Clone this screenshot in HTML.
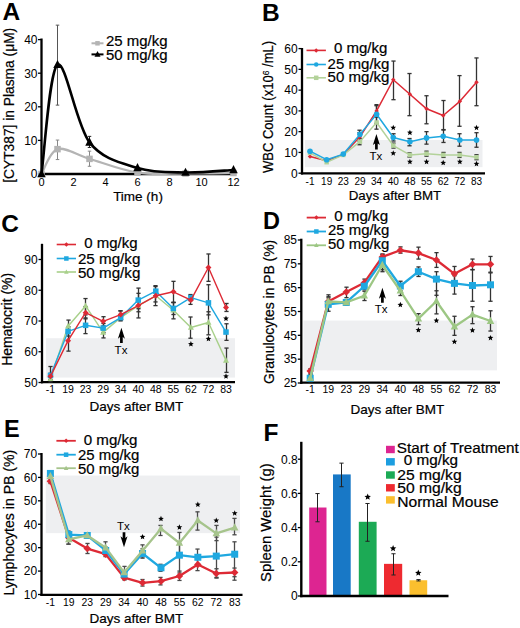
<!DOCTYPE html>
<html><head><meta charset="utf-8"><style>
html,body{margin:0;padding:0;background:#fff;}
svg{display:block;}
text{font-family:"Liberation Sans", sans-serif;}
.b{stroke:#000;stroke-width:0.2px;}
</style></head><body>
<svg width="520" height="628" viewBox="0 0 520 628">
<rect width="520" height="628" fill="#fff"/>
<line x1="41.50" y1="38.50" x2="41.50" y2="175.10" stroke="#000" stroke-width="2.3" />
<line x1="40.40" y1="174.00" x2="235.00" y2="174.00" stroke="#000" stroke-width="2.3" />
<line x1="38.00" y1="174.00" x2="41.50" y2="174.00" stroke="#000" stroke-width="1.3" />
<text x="37.50" y="178.30" font-size="12" text-anchor="end" fill="#000" >0</text>
<line x1="38.00" y1="140.40" x2="41.50" y2="140.40" stroke="#000" stroke-width="1.3" />
<text x="37.50" y="144.70" font-size="12" text-anchor="end" fill="#000" >10</text>
<line x1="38.00" y1="106.80" x2="41.50" y2="106.80" stroke="#000" stroke-width="1.3" />
<text x="37.50" y="111.10" font-size="12" text-anchor="end" fill="#000" >20</text>
<line x1="38.00" y1="73.20" x2="41.50" y2="73.20" stroke="#000" stroke-width="1.3" />
<text x="37.50" y="77.50" font-size="12" text-anchor="end" fill="#000" >30</text>
<line x1="38.00" y1="39.60" x2="41.50" y2="39.60" stroke="#000" stroke-width="1.3" />
<text x="37.50" y="43.90" font-size="12" text-anchor="end" fill="#000" >40</text>
<text x="41.50" y="185.80" font-size="11" text-anchor="middle" fill="#000" >0</text>
<text x="73.50" y="185.80" font-size="11" text-anchor="middle" fill="#000" >2</text>
<text x="105.50" y="185.80" font-size="11" text-anchor="middle" fill="#000" >4</text>
<text x="137.50" y="185.80" font-size="11" text-anchor="middle" fill="#000" >6</text>
<text x="169.50" y="185.80" font-size="11" text-anchor="middle" fill="#000" >8</text>
<text x="201.50" y="185.80" font-size="11" text-anchor="middle" fill="#000" >10</text>
<text x="233.50" y="185.80" font-size="11" text-anchor="middle" fill="#000" >12</text>
<text x="138.00" y="201.00" font-size="13.5" text-anchor="middle" fill="#000" class="b" >Time (h)</text>
<text x="14.30" y="105.30" font-size="14.4" text-anchor="middle" fill="#000" class="b" textLength="155" lengthAdjust="spacingAndGlyphs" transform="rotate(-90 14.30 105.30)" >[CYT387] in Plasma (&#956;M)</text>
<line x1="57.50" y1="140.06" x2="57.50" y2="159.55" stroke="#888" stroke-width="1" />
<line x1="55.75" y1="140.06" x2="59.25" y2="140.06" stroke="#888" stroke-width="1" />
<line x1="55.75" y1="159.55" x2="59.25" y2="159.55" stroke="#888" stroke-width="1" />
<line x1="89.50" y1="151.15" x2="89.50" y2="166.27" stroke="#888" stroke-width="1" />
<line x1="87.75" y1="151.15" x2="91.25" y2="151.15" stroke="#888" stroke-width="1" />
<line x1="87.75" y1="166.27" x2="91.25" y2="166.27" stroke="#888" stroke-width="1" />
<path d="M41.50,174.00 C44.17,169.86 49.50,151.66 57.50,149.14 C65.50,146.62 76.17,154.96 89.50,158.88 C102.83,162.80 121.50,170.22 137.50,172.66 C153.50,175.09 169.50,173.44 185.50,173.50 C201.50,173.55 225.50,173.08 233.50,172.99" fill="none" stroke="#b4b4b4" stroke-width="2.2" stroke-linecap="round"/>
<rect x="38.25" y="170.75" width="6.50" height="6.50" fill="#b4b4b4"/>
<rect x="54.25" y="145.89" width="6.50" height="6.50" fill="#b4b4b4"/>
<rect x="86.25" y="155.63" width="6.50" height="6.50" fill="#b4b4b4"/>
<rect x="134.25" y="169.41" width="6.50" height="6.50" fill="#b4b4b4"/>
<rect x="182.25" y="170.25" width="6.50" height="6.50" fill="#b4b4b4"/>
<rect x="230.25" y="169.74" width="6.50" height="6.50" fill="#b4b4b4"/>
<line x1="57.50" y1="25.15" x2="57.50" y2="105.12" stroke="#555" stroke-width="1" />
<line x1="55.75" y1="25.15" x2="59.25" y2="25.15" stroke="#555" stroke-width="1" />
<line x1="55.75" y1="105.12" x2="59.25" y2="105.12" stroke="#555" stroke-width="1" />
<line x1="89.50" y1="136.37" x2="89.50" y2="147.46" stroke="#222" stroke-width="1" />
<line x1="87.75" y1="136.37" x2="91.25" y2="136.37" stroke="#222" stroke-width="1" />
<line x1="87.75" y1="147.46" x2="91.25" y2="147.46" stroke="#222" stroke-width="1" />
<path d="M41.50,174.00 C44.17,155.80 49.50,70.06 57.50,64.80 C65.50,59.54 76.17,125.22 89.50,142.42 C102.83,159.61 121.50,162.94 137.50,167.95 C153.50,172.96 169.50,172.15 185.50,172.49 C201.50,172.82 225.50,170.39 233.50,169.97" fill="none" stroke="#000" stroke-width="2.6" stroke-linecap="round"/>
<polygon points="41.50,169.16 45.75,177.23 37.25,177.23" fill="#000"/>
<polygon points="57.50,59.95 61.75,68.03 53.25,68.03" fill="#000"/>
<polygon points="89.50,137.57 93.75,145.65 85.25,145.65" fill="#000"/>
<polygon points="137.50,163.11 141.75,171.18 133.25,171.18" fill="#000"/>
<polygon points="185.50,167.64 189.75,175.72 181.25,175.72" fill="#000"/>
<polygon points="233.50,165.12 237.75,173.20 229.25,173.20" fill="#000"/>
<line x1="91.50" y1="43.30" x2="103.50" y2="43.30" stroke="#b4b4b4" stroke-width="2" />
<rect x="95.25" y="41.05" width="4.50" height="4.50" fill="#b4b4b4"/>
<text x="106.00" y="45.50" font-size="14.5" text-anchor="start" fill="#000" class="b" textLength="61.6" lengthAdjust="spacingAndGlyphs" >25 mg/kg</text>
<line x1="91.50" y1="54.40" x2="103.50" y2="54.40" stroke="#000" stroke-width="2" />
<polygon points="97.50,50.98 100.50,56.68 94.50,56.68" fill="#000"/>
<text x="106.00" y="60.20" font-size="14.5" text-anchor="start" fill="#000" class="b" textLength="61.6" lengthAdjust="spacingAndGlyphs" >50 mg/kg</text>
<text x="2.50" y="19.80" font-size="24.5" text-anchor="start" fill="#000" font-weight="bold" >A</text>
<rect x="305.00" y="139.97" width="177.50" height="27.20" fill="#eeeff1"/>
<line x1="302.00" y1="48.00" x2="302.00" y2="174.50" stroke="#000" stroke-width="2.3" />
<line x1="300.90" y1="173.40" x2="485.00" y2="173.40" stroke="#000" stroke-width="2.3" />
<line x1="298.50" y1="173.20" x2="302.00" y2="173.20" stroke="#000" stroke-width="1.3" />
<text x="297.70" y="177.50" font-size="12" text-anchor="end" fill="#000" >0</text>
<line x1="298.50" y1="152.43" x2="302.00" y2="152.43" stroke="#000" stroke-width="1.3" />
<text x="297.70" y="156.73" font-size="12" text-anchor="end" fill="#000" >10</text>
<line x1="298.50" y1="131.67" x2="302.00" y2="131.67" stroke="#000" stroke-width="1.3" />
<text x="297.70" y="135.96" font-size="12" text-anchor="end" fill="#000" >20</text>
<line x1="298.50" y1="110.90" x2="302.00" y2="110.90" stroke="#000" stroke-width="1.3" />
<text x="297.70" y="115.20" font-size="12" text-anchor="end" fill="#000" >30</text>
<line x1="298.50" y1="90.13" x2="302.00" y2="90.13" stroke="#000" stroke-width="1.3" />
<text x="297.70" y="94.43" font-size="12" text-anchor="end" fill="#000" >40</text>
<line x1="298.50" y1="69.37" x2="302.00" y2="69.37" stroke="#000" stroke-width="1.3" />
<text x="297.70" y="73.66" font-size="12" text-anchor="end" fill="#000" >50</text>
<line x1="298.50" y1="48.60" x2="302.00" y2="48.60" stroke="#000" stroke-width="1.3" />
<text x="297.70" y="52.90" font-size="12" text-anchor="end" fill="#000" >60</text>
<text x="310.00" y="184.60" font-size="10" text-anchor="middle" fill="#000" >-1</text>
<text x="326.65" y="184.60" font-size="10" text-anchor="middle" fill="#000" >19</text>
<text x="343.30" y="184.60" font-size="10" text-anchor="middle" fill="#000" >23</text>
<text x="359.95" y="184.60" font-size="10" text-anchor="middle" fill="#000" >29</text>
<text x="376.60" y="184.60" font-size="10" text-anchor="middle" fill="#000" >34</text>
<text x="393.25" y="184.60" font-size="10" text-anchor="middle" fill="#000" >40</text>
<text x="409.90" y="184.60" font-size="10" text-anchor="middle" fill="#000" >48</text>
<text x="426.55" y="184.60" font-size="10" text-anchor="middle" fill="#000" >55</text>
<text x="443.20" y="184.60" font-size="10" text-anchor="middle" fill="#000" >62</text>
<text x="459.85" y="184.60" font-size="10" text-anchor="middle" fill="#000" >72</text>
<text x="476.50" y="184.60" font-size="10" text-anchor="middle" fill="#000" >83</text>
<text x="395.00" y="200.00" font-size="13.5" text-anchor="middle" fill="#000" class="b" textLength="92.5" lengthAdjust="spacingAndGlyphs" >Days after BMT</text>
<text x="273.40" y="107.00" font-size="14.8" text-anchor="middle" fill="#000" class="b" textLength="132.2" lengthAdjust="spacingAndGlyphs" transform="rotate(-90 273.40 107.00)" >WBC Count (x10<tspan font-size="9.5" dy="-4.5">6</tspan><tspan dy="4.5"> /mL)</tspan></text>
<line x1="359.50" y1="132.70" x2="359.50" y2="141.01" stroke="#333" stroke-width="1.3" />
<line x1="357.40" y1="132.70" x2="361.60" y2="132.70" stroke="#333" stroke-width="1.3" />
<line x1="357.40" y1="141.01" x2="361.60" y2="141.01" stroke="#333" stroke-width="1.3" />
<line x1="376.50" y1="105.71" x2="376.50" y2="116.09" stroke="#333" stroke-width="1.3" />
<line x1="374.40" y1="105.71" x2="378.60" y2="105.71" stroke="#333" stroke-width="1.3" />
<line x1="374.40" y1="116.09" x2="378.60" y2="116.09" stroke="#333" stroke-width="1.3" />
<line x1="393.50" y1="61.06" x2="393.50" y2="99.69" stroke="#333" stroke-width="1.3" />
<line x1="391.40" y1="61.06" x2="395.60" y2="61.06" stroke="#333" stroke-width="1.3" />
<line x1="391.40" y1="99.69" x2="395.60" y2="99.69" stroke="#333" stroke-width="1.3" />
<line x1="409.50" y1="73.52" x2="409.50" y2="115.68" stroke="#333" stroke-width="1.3" />
<line x1="407.40" y1="73.52" x2="411.60" y2="73.52" stroke="#333" stroke-width="1.3" />
<line x1="407.40" y1="115.68" x2="411.60" y2="115.68" stroke="#333" stroke-width="1.3" />
<line x1="426.50" y1="95.74" x2="426.50" y2="123.78" stroke="#333" stroke-width="1.3" />
<line x1="424.40" y1="95.74" x2="428.60" y2="95.74" stroke="#333" stroke-width="1.3" />
<line x1="424.40" y1="123.78" x2="428.60" y2="123.78" stroke="#333" stroke-width="1.3" />
<line x1="443.50" y1="100.52" x2="443.50" y2="129.59" stroke="#333" stroke-width="1.3" />
<line x1="441.40" y1="100.52" x2="445.60" y2="100.52" stroke="#333" stroke-width="1.3" />
<line x1="441.40" y1="129.59" x2="445.60" y2="129.59" stroke="#333" stroke-width="1.3" />
<line x1="459.50" y1="75.60" x2="459.50" y2="126.27" stroke="#333" stroke-width="1.3" />
<line x1="457.40" y1="75.60" x2="461.60" y2="75.60" stroke="#333" stroke-width="1.3" />
<line x1="457.40" y1="126.27" x2="461.60" y2="126.27" stroke="#333" stroke-width="1.3" />
<line x1="476.50" y1="57.94" x2="476.50" y2="105.71" stroke="#333" stroke-width="1.3" />
<line x1="474.40" y1="57.94" x2="478.60" y2="57.94" stroke="#333" stroke-width="1.3" />
<line x1="474.40" y1="105.71" x2="478.60" y2="105.71" stroke="#333" stroke-width="1.3" />
<line x1="359.50" y1="138.52" x2="359.50" y2="144.75" stroke="#333" stroke-width="1.3" />
<line x1="357.40" y1="138.52" x2="361.60" y2="138.52" stroke="#333" stroke-width="1.3" />
<line x1="357.40" y1="144.75" x2="361.60" y2="144.75" stroke="#333" stroke-width="1.3" />
<line x1="376.50" y1="117.13" x2="376.50" y2="129.17" stroke="#333" stroke-width="1.3" />
<line x1="374.40" y1="117.13" x2="378.60" y2="117.13" stroke="#333" stroke-width="1.3" />
<line x1="374.40" y1="129.17" x2="378.60" y2="129.17" stroke="#333" stroke-width="1.3" />
<line x1="393.50" y1="143.09" x2="393.50" y2="148.07" stroke="#333" stroke-width="1.3" />
<line x1="391.40" y1="143.09" x2="395.60" y2="143.09" stroke="#333" stroke-width="1.3" />
<line x1="391.40" y1="148.07" x2="395.60" y2="148.07" stroke="#333" stroke-width="1.3" />
<line x1="409.50" y1="152.85" x2="409.50" y2="157.00" stroke="#333" stroke-width="1.3" />
<line x1="407.40" y1="152.85" x2="411.60" y2="152.85" stroke="#333" stroke-width="1.3" />
<line x1="407.40" y1="157.00" x2="411.60" y2="157.00" stroke="#333" stroke-width="1.3" />
<line x1="426.50" y1="151.19" x2="426.50" y2="156.17" stroke="#333" stroke-width="1.3" />
<line x1="424.40" y1="151.19" x2="428.60" y2="151.19" stroke="#333" stroke-width="1.3" />
<line x1="424.40" y1="156.17" x2="428.60" y2="156.17" stroke="#333" stroke-width="1.3" />
<line x1="443.50" y1="152.43" x2="443.50" y2="157.42" stroke="#333" stroke-width="1.3" />
<line x1="441.40" y1="152.43" x2="445.60" y2="152.43" stroke="#333" stroke-width="1.3" />
<line x1="441.40" y1="157.42" x2="445.60" y2="157.42" stroke="#333" stroke-width="1.3" />
<line x1="459.50" y1="152.43" x2="459.50" y2="157.42" stroke="#333" stroke-width="1.3" />
<line x1="457.40" y1="152.43" x2="461.60" y2="152.43" stroke="#333" stroke-width="1.3" />
<line x1="457.40" y1="157.42" x2="461.60" y2="157.42" stroke="#333" stroke-width="1.3" />
<line x1="476.50" y1="154.72" x2="476.50" y2="159.70" stroke="#333" stroke-width="1.3" />
<line x1="474.40" y1="154.72" x2="478.60" y2="154.72" stroke="#333" stroke-width="1.3" />
<line x1="474.40" y1="159.70" x2="478.60" y2="159.70" stroke="#333" stroke-width="1.3" />
<line x1="359.50" y1="130.21" x2="359.50" y2="138.52" stroke="#333" stroke-width="1.3" />
<line x1="357.40" y1="130.21" x2="361.60" y2="130.21" stroke="#333" stroke-width="1.3" />
<line x1="357.40" y1="138.52" x2="361.60" y2="138.52" stroke="#333" stroke-width="1.3" />
<line x1="376.50" y1="104.67" x2="376.50" y2="123.36" stroke="#333" stroke-width="1.3" />
<line x1="374.40" y1="104.67" x2="378.60" y2="104.67" stroke="#333" stroke-width="1.3" />
<line x1="374.40" y1="123.36" x2="378.60" y2="123.36" stroke="#333" stroke-width="1.3" />
<line x1="393.50" y1="133.74" x2="393.50" y2="141.01" stroke="#333" stroke-width="1.3" />
<line x1="391.40" y1="133.74" x2="395.60" y2="133.74" stroke="#333" stroke-width="1.3" />
<line x1="391.40" y1="141.01" x2="395.60" y2="141.01" stroke="#333" stroke-width="1.3" />
<line x1="409.50" y1="138.52" x2="409.50" y2="145.79" stroke="#333" stroke-width="1.3" />
<line x1="407.40" y1="138.52" x2="411.60" y2="138.52" stroke="#333" stroke-width="1.3" />
<line x1="407.40" y1="145.79" x2="411.60" y2="145.79" stroke="#333" stroke-width="1.3" />
<line x1="426.50" y1="131.67" x2="426.50" y2="144.13" stroke="#333" stroke-width="1.3" />
<line x1="424.40" y1="131.67" x2="428.60" y2="131.67" stroke="#333" stroke-width="1.3" />
<line x1="424.40" y1="144.13" x2="428.60" y2="144.13" stroke="#333" stroke-width="1.3" />
<line x1="443.50" y1="130.01" x2="443.50" y2="142.47" stroke="#333" stroke-width="1.3" />
<line x1="441.40" y1="130.01" x2="445.60" y2="130.01" stroke="#333" stroke-width="1.3" />
<line x1="441.40" y1="142.47" x2="445.60" y2="142.47" stroke="#333" stroke-width="1.3" />
<line x1="459.50" y1="133.74" x2="459.50" y2="146.20" stroke="#333" stroke-width="1.3" />
<line x1="457.40" y1="133.74" x2="461.60" y2="133.74" stroke="#333" stroke-width="1.3" />
<line x1="457.40" y1="146.20" x2="461.60" y2="146.20" stroke="#333" stroke-width="1.3" />
<line x1="476.50" y1="132.70" x2="476.50" y2="147.24" stroke="#333" stroke-width="1.3" />
<line x1="474.40" y1="132.70" x2="478.60" y2="132.70" stroke="#333" stroke-width="1.3" />
<line x1="474.40" y1="147.24" x2="478.60" y2="147.24" stroke="#333" stroke-width="1.3" />
<polyline points="310.00,156.59 326.65,160.74 343.30,154.51 359.95,136.86 376.60,110.90 393.25,79.75 409.90,94.29 426.55,108.82 443.20,115.47 459.85,101.35 476.50,82.24" fill="none" stroke="#dd2a35" stroke-width="1.5" stroke-linejoin="round"/>
<polygon points="310.00,154.34 312.25,156.59 310.00,158.84 307.75,156.59" fill="#dd2a35"/>
<polygon points="326.65,158.49 328.90,160.74 326.65,162.99 324.40,160.74" fill="#dd2a35"/>
<polygon points="343.30,152.26 345.55,154.51 343.30,156.76 341.05,154.51" fill="#dd2a35"/>
<polygon points="359.95,134.61 362.20,136.86 359.95,139.11 357.70,136.86" fill="#dd2a35"/>
<polygon points="376.60,108.65 378.85,110.90 376.60,113.15 374.35,110.90" fill="#dd2a35"/>
<polygon points="393.25,77.50 395.50,79.75 393.25,82.00 391.00,79.75" fill="#dd2a35"/>
<polygon points="409.90,92.04 412.15,94.29 409.90,96.54 407.65,94.29" fill="#dd2a35"/>
<polygon points="426.55,106.57 428.80,108.82 426.55,111.07 424.30,108.82" fill="#dd2a35"/>
<polygon points="443.20,113.22 445.45,115.47 443.20,117.72 440.95,115.47" fill="#dd2a35"/>
<polygon points="459.85,99.10 462.10,101.35 459.85,103.60 457.60,101.35" fill="#dd2a35"/>
<polygon points="476.50,79.99 478.75,82.24 476.50,84.49 474.25,82.24" fill="#dd2a35"/>
<polyline points="310.00,152.85 326.65,162.19 343.30,154.93 359.95,141.63 376.60,122.53 393.25,145.58 409.90,154.93 426.55,153.68 443.20,154.93 459.85,154.93 476.50,157.21" fill="none" stroke="#b3d29a" stroke-width="1.5" stroke-linejoin="round"/>
<rect x="307.75" y="150.60" width="4.50" height="4.50" fill="#b3d29a"/>
<rect x="324.40" y="159.94" width="4.50" height="4.50" fill="#b3d29a"/>
<rect x="341.05" y="152.68" width="4.50" height="4.50" fill="#b3d29a"/>
<rect x="357.70" y="139.38" width="4.50" height="4.50" fill="#b3d29a"/>
<rect x="374.35" y="120.28" width="4.50" height="4.50" fill="#b3d29a"/>
<rect x="391.00" y="143.33" width="4.50" height="4.50" fill="#b3d29a"/>
<rect x="407.65" y="152.68" width="4.50" height="4.50" fill="#b3d29a"/>
<rect x="424.30" y="151.43" width="4.50" height="4.50" fill="#b3d29a"/>
<rect x="440.95" y="152.68" width="4.50" height="4.50" fill="#b3d29a"/>
<rect x="457.60" y="152.68" width="4.50" height="4.50" fill="#b3d29a"/>
<rect x="474.25" y="154.96" width="4.50" height="4.50" fill="#b3d29a"/>
<polyline points="310.00,151.19 326.65,159.70 343.30,154.09 359.95,134.37 376.60,114.22 393.25,137.48 409.90,141.84 426.55,137.90 443.20,136.24 459.85,139.97 476.50,139.97" fill="none" stroke="#1fa8e0" stroke-width="1.5" stroke-linejoin="round"/>
<circle cx="310.00" cy="151.19" r="2.80" fill="#1fa8e0"/>
<circle cx="326.65" cy="159.70" r="2.80" fill="#1fa8e0"/>
<circle cx="343.30" cy="154.09" r="2.80" fill="#1fa8e0"/>
<circle cx="359.95" cy="134.37" r="2.80" fill="#1fa8e0"/>
<circle cx="376.60" cy="114.22" r="2.80" fill="#1fa8e0"/>
<circle cx="393.25" cy="137.48" r="2.80" fill="#1fa8e0"/>
<circle cx="409.90" cy="141.84" r="2.80" fill="#1fa8e0"/>
<circle cx="426.55" cy="137.90" r="2.80" fill="#1fa8e0"/>
<circle cx="443.20" cy="136.24" r="2.80" fill="#1fa8e0"/>
<circle cx="459.85" cy="139.97" r="2.80" fill="#1fa8e0"/>
<circle cx="476.50" cy="139.97" r="2.80" fill="#1fa8e0"/>
<polygon points="393.25,124.72 394.04,126.63 396.10,126.79 394.53,128.14 395.01,130.15 393.25,129.07 391.49,130.15 391.97,128.14 390.40,126.79 392.46,126.63" fill="#000"/>
<polygon points="393.25,150.26 394.04,152.17 396.10,152.34 394.53,153.68 395.01,155.69 393.25,154.61 391.49,155.69 391.97,153.68 390.40,152.34 392.46,152.17" fill="#000"/>
<polygon points="409.90,129.70 410.69,131.61 412.75,131.78 411.18,133.12 411.66,135.13 409.90,134.05 408.14,135.13 408.62,133.12 407.05,131.78 409.11,131.61" fill="#000"/>
<polygon points="409.90,158.78 410.69,160.69 412.75,160.85 411.18,162.20 411.66,164.21 409.90,163.13 408.14,164.21 408.62,162.20 407.05,160.85 409.11,160.69" fill="#000"/>
<polygon points="426.55,158.78 427.34,160.69 429.40,160.85 427.83,162.20 428.31,164.21 426.55,163.13 424.79,164.21 425.27,162.20 423.70,160.85 425.76,160.69" fill="#000"/>
<polygon points="443.20,159.82 443.99,161.72 446.05,161.89 444.48,163.23 444.96,165.24 443.20,164.17 441.44,165.24 441.92,163.23 440.35,161.89 442.41,161.72" fill="#000"/>
<polygon points="459.85,158.78 460.64,160.69 462.70,160.85 461.13,162.20 461.61,164.21 459.85,163.13 458.09,164.21 458.57,162.20 457.00,160.85 459.06,160.69" fill="#000"/>
<polygon points="476.50,124.72 477.29,126.63 479.35,126.79 477.78,128.14 478.26,130.15 476.50,129.07 474.74,130.15 475.22,128.14 473.65,126.79 475.71,126.63" fill="#000"/>
<polygon points="476.50,160.85 477.29,162.76 479.35,162.93 477.78,164.27 478.26,166.28 476.50,165.20 474.74,166.28 475.22,164.27 473.65,162.93 475.71,162.76" fill="#000"/>
<polygon points="376.40,134.10 379.90,145.10 377.75,143.50 377.75,149.60 375.05,149.60 375.05,143.50 372.90,145.10" fill="#000"/>
<text x="375.80" y="160.00" font-size="11.5" text-anchor="middle" fill="#000" >Tx</text>
<line x1="306.50" y1="50.40" x2="325.90" y2="50.40" stroke="#dd2a35" stroke-width="1.6" />
<polygon points="316.20,48.15 318.45,50.40 316.20,52.65 313.95,50.40" fill="#dd2a35"/>
<text x="334.00" y="52.50" font-size="14.6" text-anchor="start" fill="#000" class="b" textLength="53.4" lengthAdjust="spacingAndGlyphs" >0 mg/kg</text>
<line x1="306.50" y1="64.50" x2="325.90" y2="64.50" stroke="#1fa8e0" stroke-width="1.6" />
<circle cx="316.20" cy="64.50" r="2.25" fill="#1fa8e0"/>
<text x="327.60" y="68.50" font-size="14.6" text-anchor="start" fill="#000" class="b" textLength="61.9" lengthAdjust="spacingAndGlyphs" >25 mg/kg</text>
<line x1="306.50" y1="77.80" x2="325.90" y2="77.80" stroke="#b3d29a" stroke-width="1.6" />
<rect x="313.95" y="75.55" width="4.50" height="4.50" fill="#b3d29a"/>
<text x="327.60" y="82.40" font-size="14.6" text-anchor="start" fill="#000" class="b" textLength="61.9" lengthAdjust="spacingAndGlyphs" >50 mg/kg</text>
<text x="262.00" y="21.30" font-size="24.5" text-anchor="start" fill="#000" font-weight="bold" >B</text>
<rect x="46.00" y="338.22" width="189.00" height="39.36" fill="#eeeff1"/>
<line x1="42.00" y1="243.80" x2="42.00" y2="383.30" stroke="#000" stroke-width="2.3" />
<line x1="40.90" y1="382.20" x2="235.00" y2="382.20" stroke="#000" stroke-width="2.3" />
<line x1="38.50" y1="382.50" x2="42.00" y2="382.50" stroke="#000" stroke-width="1.3" />
<text x="37.70" y="386.80" font-size="12" text-anchor="end" fill="#000" >50</text>
<line x1="38.50" y1="351.75" x2="42.00" y2="351.75" stroke="#000" stroke-width="1.3" />
<text x="37.70" y="356.05" font-size="12" text-anchor="end" fill="#000" >60</text>
<line x1="38.50" y1="321.00" x2="42.00" y2="321.00" stroke="#000" stroke-width="1.3" />
<text x="37.70" y="325.30" font-size="12" text-anchor="end" fill="#000" >70</text>
<line x1="38.50" y1="290.25" x2="42.00" y2="290.25" stroke="#000" stroke-width="1.3" />
<text x="37.70" y="294.55" font-size="12" text-anchor="end" fill="#000" >80</text>
<line x1="38.50" y1="259.50" x2="42.00" y2="259.50" stroke="#000" stroke-width="1.3" />
<text x="37.70" y="263.80" font-size="12" text-anchor="end" fill="#000" >90</text>
<text x="50.50" y="393.20" font-size="10.5" text-anchor="middle" fill="#000" >-1</text>
<text x="68.05" y="393.20" font-size="10.5" text-anchor="middle" fill="#000" >19</text>
<text x="85.60" y="393.20" font-size="10.5" text-anchor="middle" fill="#000" >23</text>
<text x="103.15" y="393.20" font-size="10.5" text-anchor="middle" fill="#000" >29</text>
<text x="120.70" y="393.20" font-size="10.5" text-anchor="middle" fill="#000" >34</text>
<text x="138.25" y="393.20" font-size="10.5" text-anchor="middle" fill="#000" >40</text>
<text x="155.80" y="393.20" font-size="10.5" text-anchor="middle" fill="#000" >48</text>
<text x="173.35" y="393.20" font-size="10.5" text-anchor="middle" fill="#000" >55</text>
<text x="190.90" y="393.20" font-size="10.5" text-anchor="middle" fill="#000" >62</text>
<text x="208.45" y="393.20" font-size="10.5" text-anchor="middle" fill="#000" >72</text>
<text x="226.00" y="393.20" font-size="10.5" text-anchor="middle" fill="#000" >83</text>
<text x="136.40" y="411.00" font-size="13.5" text-anchor="middle" fill="#000" class="b" textLength="94" lengthAdjust="spacingAndGlyphs" >Days after BMT</text>
<text x="12.50" y="319.35" font-size="14.1" text-anchor="middle" fill="#000" class="b" textLength="93" lengthAdjust="spacingAndGlyphs" transform="rotate(-90 12.50 319.35)" >Hematocrit (%)</text>
<line x1="50.50" y1="375.74" x2="50.50" y2="381.88" stroke="#333" stroke-width="1.3" />
<line x1="48.40" y1="375.74" x2="52.60" y2="375.74" stroke="#333" stroke-width="1.3" />
<line x1="48.40" y1="381.88" x2="52.60" y2="381.88" stroke="#333" stroke-width="1.3" />
<line x1="68.50" y1="320.08" x2="68.50" y2="332.38" stroke="#333" stroke-width="1.3" />
<line x1="66.40" y1="320.08" x2="70.60" y2="320.08" stroke="#333" stroke-width="1.3" />
<line x1="66.40" y1="332.38" x2="70.60" y2="332.38" stroke="#333" stroke-width="1.3" />
<line x1="85.50" y1="298.55" x2="85.50" y2="314.85" stroke="#333" stroke-width="1.3" />
<line x1="83.40" y1="298.55" x2="87.60" y2="298.55" stroke="#333" stroke-width="1.3" />
<line x1="83.40" y1="314.85" x2="87.60" y2="314.85" stroke="#333" stroke-width="1.3" />
<line x1="103.50" y1="327.15" x2="103.50" y2="337.91" stroke="#333" stroke-width="1.3" />
<line x1="101.40" y1="327.15" x2="105.60" y2="327.15" stroke="#333" stroke-width="1.3" />
<line x1="101.40" y1="337.91" x2="105.60" y2="337.91" stroke="#333" stroke-width="1.3" />
<line x1="120.50" y1="314.54" x2="120.50" y2="320.69" stroke="#333" stroke-width="1.3" />
<line x1="118.40" y1="314.54" x2="122.60" y2="314.54" stroke="#333" stroke-width="1.3" />
<line x1="118.40" y1="320.69" x2="122.60" y2="320.69" stroke="#333" stroke-width="1.3" />
<line x1="138.50" y1="299.48" x2="138.50" y2="311.77" stroke="#333" stroke-width="1.3" />
<line x1="136.40" y1="299.48" x2="140.60" y2="299.48" stroke="#333" stroke-width="1.3" />
<line x1="136.40" y1="311.77" x2="140.60" y2="311.77" stroke="#333" stroke-width="1.3" />
<line x1="155.50" y1="289.63" x2="155.50" y2="301.94" stroke="#333" stroke-width="1.3" />
<line x1="153.40" y1="289.63" x2="157.60" y2="289.63" stroke="#333" stroke-width="1.3" />
<line x1="153.40" y1="301.94" x2="157.60" y2="301.94" stroke="#333" stroke-width="1.3" />
<line x1="173.50" y1="302.55" x2="173.50" y2="318.85" stroke="#333" stroke-width="1.3" />
<line x1="171.40" y1="302.55" x2="175.60" y2="302.55" stroke="#333" stroke-width="1.3" />
<line x1="171.40" y1="318.85" x2="175.60" y2="318.85" stroke="#333" stroke-width="1.3" />
<line x1="190.50" y1="317.00" x2="190.50" y2="338.22" stroke="#333" stroke-width="1.3" />
<line x1="188.40" y1="317.00" x2="192.60" y2="317.00" stroke="#333" stroke-width="1.3" />
<line x1="188.40" y1="338.22" x2="192.60" y2="338.22" stroke="#333" stroke-width="1.3" />
<line x1="208.50" y1="311.77" x2="208.50" y2="334.84" stroke="#333" stroke-width="1.3" />
<line x1="206.40" y1="311.77" x2="210.60" y2="311.77" stroke="#333" stroke-width="1.3" />
<line x1="206.40" y1="334.84" x2="210.60" y2="334.84" stroke="#333" stroke-width="1.3" />
<line x1="226.50" y1="348.06" x2="226.50" y2="372.35" stroke="#333" stroke-width="1.3" />
<line x1="224.40" y1="348.06" x2="228.60" y2="348.06" stroke="#333" stroke-width="1.3" />
<line x1="224.40" y1="372.35" x2="228.60" y2="372.35" stroke="#333" stroke-width="1.3" />
<line x1="50.50" y1="366.51" x2="50.50" y2="380.04" stroke="#333" stroke-width="1.3" />
<line x1="48.40" y1="366.51" x2="52.60" y2="366.51" stroke="#333" stroke-width="1.3" />
<line x1="48.40" y1="380.04" x2="52.60" y2="380.04" stroke="#333" stroke-width="1.3" />
<line x1="68.50" y1="326.84" x2="68.50" y2="336.07" stroke="#333" stroke-width="1.3" />
<line x1="66.40" y1="326.84" x2="70.60" y2="326.84" stroke="#333" stroke-width="1.3" />
<line x1="66.40" y1="336.07" x2="70.60" y2="336.07" stroke="#333" stroke-width="1.3" />
<line x1="85.50" y1="317.93" x2="85.50" y2="333.61" stroke="#333" stroke-width="1.3" />
<line x1="83.40" y1="317.93" x2="87.60" y2="317.93" stroke="#333" stroke-width="1.3" />
<line x1="83.40" y1="333.61" x2="87.60" y2="333.61" stroke="#333" stroke-width="1.3" />
<line x1="103.50" y1="323.46" x2="103.50" y2="332.69" stroke="#333" stroke-width="1.3" />
<line x1="101.40" y1="323.46" x2="105.60" y2="323.46" stroke="#333" stroke-width="1.3" />
<line x1="101.40" y1="332.69" x2="105.60" y2="332.69" stroke="#333" stroke-width="1.3" />
<line x1="120.50" y1="310.85" x2="120.50" y2="320.69" stroke="#333" stroke-width="1.3" />
<line x1="118.40" y1="310.85" x2="122.60" y2="310.85" stroke="#333" stroke-width="1.3" />
<line x1="118.40" y1="320.69" x2="122.60" y2="320.69" stroke="#333" stroke-width="1.3" />
<line x1="138.50" y1="288.10" x2="138.50" y2="308.70" stroke="#333" stroke-width="1.3" />
<line x1="136.40" y1="288.10" x2="140.60" y2="288.10" stroke="#333" stroke-width="1.3" />
<line x1="136.40" y1="308.70" x2="140.60" y2="308.70" stroke="#333" stroke-width="1.3" />
<line x1="155.50" y1="286.56" x2="155.50" y2="295.78" stroke="#333" stroke-width="1.3" />
<line x1="153.40" y1="286.56" x2="157.60" y2="286.56" stroke="#333" stroke-width="1.3" />
<line x1="153.40" y1="295.78" x2="157.60" y2="295.78" stroke="#333" stroke-width="1.3" />
<line x1="173.50" y1="302.24" x2="173.50" y2="314.54" stroke="#333" stroke-width="1.3" />
<line x1="171.40" y1="302.24" x2="175.60" y2="302.24" stroke="#333" stroke-width="1.3" />
<line x1="171.40" y1="314.54" x2="175.60" y2="314.54" stroke="#333" stroke-width="1.3" />
<line x1="190.50" y1="294.56" x2="190.50" y2="300.71" stroke="#333" stroke-width="1.3" />
<line x1="188.40" y1="294.56" x2="192.60" y2="294.56" stroke="#333" stroke-width="1.3" />
<line x1="188.40" y1="300.71" x2="192.60" y2="300.71" stroke="#333" stroke-width="1.3" />
<line x1="208.50" y1="284.72" x2="208.50" y2="314.85" stroke="#333" stroke-width="1.3" />
<line x1="206.40" y1="284.72" x2="210.60" y2="284.72" stroke="#333" stroke-width="1.3" />
<line x1="206.40" y1="314.85" x2="210.60" y2="314.85" stroke="#333" stroke-width="1.3" />
<line x1="226.50" y1="323.77" x2="226.50" y2="340.37" stroke="#333" stroke-width="1.3" />
<line x1="224.40" y1="323.77" x2="228.60" y2="323.77" stroke="#333" stroke-width="1.3" />
<line x1="224.40" y1="340.37" x2="228.60" y2="340.37" stroke="#333" stroke-width="1.3" />
<line x1="50.50" y1="373.27" x2="50.50" y2="379.43" stroke="#333" stroke-width="1.3" />
<line x1="48.40" y1="373.27" x2="52.60" y2="373.27" stroke="#333" stroke-width="1.3" />
<line x1="48.40" y1="379.43" x2="52.60" y2="379.43" stroke="#333" stroke-width="1.3" />
<line x1="68.50" y1="330.23" x2="68.50" y2="351.13" stroke="#333" stroke-width="1.3" />
<line x1="66.40" y1="330.23" x2="70.60" y2="330.23" stroke="#333" stroke-width="1.3" />
<line x1="66.40" y1="351.13" x2="70.60" y2="351.13" stroke="#333" stroke-width="1.3" />
<line x1="85.50" y1="306.55" x2="85.50" y2="318.85" stroke="#333" stroke-width="1.3" />
<line x1="83.40" y1="306.55" x2="87.60" y2="306.55" stroke="#333" stroke-width="1.3" />
<line x1="83.40" y1="318.85" x2="87.60" y2="318.85" stroke="#333" stroke-width="1.3" />
<line x1="103.50" y1="316.69" x2="103.50" y2="325.92" stroke="#333" stroke-width="1.3" />
<line x1="101.40" y1="316.69" x2="105.60" y2="316.69" stroke="#333" stroke-width="1.3" />
<line x1="101.40" y1="325.92" x2="105.60" y2="325.92" stroke="#333" stroke-width="1.3" />
<line x1="120.50" y1="310.85" x2="120.50" y2="318.23" stroke="#333" stroke-width="1.3" />
<line x1="118.40" y1="310.85" x2="122.60" y2="310.85" stroke="#333" stroke-width="1.3" />
<line x1="118.40" y1="318.23" x2="122.60" y2="318.23" stroke="#333" stroke-width="1.3" />
<line x1="138.50" y1="293.32" x2="138.50" y2="317.93" stroke="#333" stroke-width="1.3" />
<line x1="136.40" y1="293.32" x2="140.60" y2="293.32" stroke="#333" stroke-width="1.3" />
<line x1="136.40" y1="317.93" x2="140.60" y2="317.93" stroke="#333" stroke-width="1.3" />
<line x1="155.50" y1="285.64" x2="155.50" y2="305.62" stroke="#333" stroke-width="1.3" />
<line x1="153.40" y1="285.64" x2="157.60" y2="285.64" stroke="#333" stroke-width="1.3" />
<line x1="153.40" y1="305.62" x2="157.60" y2="305.62" stroke="#333" stroke-width="1.3" />
<line x1="173.50" y1="281.33" x2="173.50" y2="302.55" stroke="#333" stroke-width="1.3" />
<line x1="171.40" y1="281.33" x2="175.60" y2="281.33" stroke="#333" stroke-width="1.3" />
<line x1="171.40" y1="302.55" x2="175.60" y2="302.55" stroke="#333" stroke-width="1.3" />
<line x1="190.50" y1="295.78" x2="190.50" y2="304.40" stroke="#333" stroke-width="1.3" />
<line x1="188.40" y1="295.78" x2="192.60" y2="295.78" stroke="#333" stroke-width="1.3" />
<line x1="188.40" y1="304.40" x2="192.60" y2="304.40" stroke="#333" stroke-width="1.3" />
<line x1="208.50" y1="253.97" x2="208.50" y2="281.33" stroke="#333" stroke-width="1.3" />
<line x1="206.40" y1="253.97" x2="210.60" y2="253.97" stroke="#333" stroke-width="1.3" />
<line x1="206.40" y1="281.33" x2="210.60" y2="281.33" stroke="#333" stroke-width="1.3" />
<line x1="226.50" y1="303.47" x2="226.50" y2="311.47" stroke="#333" stroke-width="1.3" />
<line x1="224.40" y1="303.47" x2="228.60" y2="303.47" stroke="#333" stroke-width="1.3" />
<line x1="224.40" y1="311.47" x2="228.60" y2="311.47" stroke="#333" stroke-width="1.3" />
<polyline points="50.50,378.81 68.05,326.23 85.60,305.93 103.15,332.38 120.70,317.62 138.25,305.62 155.80,295.78 173.35,310.24 190.90,327.46 208.45,322.54 226.00,360.36" fill="none" stroke="#a8d08a" stroke-width="1.4" stroke-linejoin="round"/>
<polygon points="50.50,375.39 53.50,381.09 47.50,381.09" fill="#a8d08a"/>
<polygon points="68.05,322.81 71.05,328.51 65.05,328.51" fill="#a8d08a"/>
<polygon points="85.60,302.51 88.60,308.21 82.60,308.21" fill="#a8d08a"/>
<polygon points="103.15,328.96 106.15,334.66 100.15,334.66" fill="#a8d08a"/>
<polygon points="120.70,314.20 123.70,319.90 117.70,319.90" fill="#a8d08a"/>
<polygon points="138.25,302.20 141.25,307.90 135.25,307.90" fill="#a8d08a"/>
<polygon points="155.80,292.36 158.80,298.06 152.80,298.06" fill="#a8d08a"/>
<polygon points="173.35,306.82 176.35,312.52 170.35,312.52" fill="#a8d08a"/>
<polygon points="190.90,324.04 193.90,329.74 187.90,329.74" fill="#a8d08a"/>
<polygon points="208.45,319.12 211.45,324.82 205.45,324.82" fill="#a8d08a"/>
<polygon points="226.00,356.94 229.00,362.64 223.00,362.64" fill="#a8d08a"/>
<polyline points="50.50,375.43 68.05,331.46 85.60,325.31 103.15,328.07 120.70,317.62 138.25,300.09 155.80,291.17 173.35,308.39 190.90,297.63 208.45,302.86 226.00,332.07" fill="none" stroke="#1fa8e0" stroke-width="1.4" stroke-linejoin="round"/>
<rect x="47.75" y="372.68" width="5.50" height="5.50" fill="#1fa8e0"/>
<rect x="65.30" y="328.71" width="5.50" height="5.50" fill="#1fa8e0"/>
<rect x="82.85" y="322.56" width="5.50" height="5.50" fill="#1fa8e0"/>
<rect x="100.40" y="325.32" width="5.50" height="5.50" fill="#1fa8e0"/>
<rect x="117.95" y="314.87" width="5.50" height="5.50" fill="#1fa8e0"/>
<rect x="135.50" y="297.34" width="5.50" height="5.50" fill="#1fa8e0"/>
<rect x="153.05" y="288.42" width="5.50" height="5.50" fill="#1fa8e0"/>
<rect x="170.60" y="305.64" width="5.50" height="5.50" fill="#1fa8e0"/>
<rect x="188.15" y="294.88" width="5.50" height="5.50" fill="#1fa8e0"/>
<rect x="205.70" y="300.11" width="5.50" height="5.50" fill="#1fa8e0"/>
<rect x="223.25" y="329.32" width="5.50" height="5.50" fill="#1fa8e0"/>
<polyline points="50.50,376.35 68.05,340.68 85.60,312.70 103.15,321.31 120.70,314.54 138.25,305.62 155.80,295.78 173.35,291.79 190.90,300.09 208.45,267.50 226.00,307.47" fill="none" stroke="#dd2a35" stroke-width="1.4" stroke-linejoin="round"/>
<polygon points="50.50,373.35 53.50,376.35 50.50,379.35 47.50,376.35" fill="#dd2a35"/>
<polygon points="68.05,337.68 71.05,340.68 68.05,343.68 65.05,340.68" fill="#dd2a35"/>
<polygon points="85.60,309.70 88.60,312.70 85.60,315.70 82.60,312.70" fill="#dd2a35"/>
<polygon points="103.15,318.31 106.15,321.31 103.15,324.31 100.15,321.31" fill="#dd2a35"/>
<polygon points="120.70,311.54 123.70,314.54 120.70,317.54 117.70,314.54" fill="#dd2a35"/>
<polygon points="138.25,302.62 141.25,305.62 138.25,308.62 135.25,305.62" fill="#dd2a35"/>
<polygon points="155.80,292.78 158.80,295.78 155.80,298.78 152.80,295.78" fill="#dd2a35"/>
<polygon points="173.35,288.79 176.35,291.79 173.35,294.79 170.35,291.79" fill="#dd2a35"/>
<polygon points="190.90,297.09 193.90,300.09 190.90,303.09 187.90,300.09" fill="#dd2a35"/>
<polygon points="208.45,264.50 211.45,267.50 208.45,270.50 205.45,267.50" fill="#dd2a35"/>
<polygon points="226.00,304.47 229.00,307.47 226.00,310.47 223.00,307.47" fill="#dd2a35"/>
<polygon points="190.90,341.06 191.69,342.97 193.75,343.14 192.18,344.48 192.66,346.49 190.90,345.41 189.14,346.49 189.62,344.48 188.05,343.14 190.11,342.97" fill="#000"/>
<polygon points="208.45,335.83 209.24,337.74 211.30,337.91 209.73,339.25 210.21,341.26 208.45,340.19 206.69,341.26 207.17,339.25 205.60,337.91 207.66,337.74" fill="#000"/>
<polygon points="226.00,315.54 226.79,317.45 228.85,317.61 227.28,318.96 227.76,320.97 226.00,319.89 224.24,320.97 224.72,318.96 223.15,317.61 225.21,317.45" fill="#000"/>
<polygon points="226.00,373.35 226.79,375.26 228.85,375.42 227.28,376.77 227.76,378.78 226.00,377.70 224.24,378.78 224.72,376.77 223.15,375.42 225.21,375.26" fill="#000"/>
<polygon points="121.40,327.70 124.90,338.70 122.75,337.10 122.75,342.90 120.05,342.90 120.05,337.10 117.90,338.70" fill="#000"/>
<text x="121.00" y="353.50" font-size="11.5" text-anchor="middle" fill="#000" >Tx</text>
<line x1="56.70" y1="244.50" x2="76.00" y2="244.50" stroke="#dd2a35" stroke-width="1.6" />
<polygon points="66.35,242.25 68.60,244.50 66.35,246.75 64.10,244.50" fill="#dd2a35"/>
<text x="84.20" y="248.20" font-size="14.6" text-anchor="start" fill="#000" class="b" textLength="53.3" lengthAdjust="spacingAndGlyphs" >0 mg/kg</text>
<line x1="56.70" y1="258.50" x2="76.00" y2="258.50" stroke="#1fa8e0" stroke-width="1.6" />
<rect x="64.10" y="256.25" width="4.50" height="4.50" fill="#1fa8e0"/>
<text x="77.90" y="263.60" font-size="14.6" text-anchor="start" fill="#000" class="b" textLength="62.5" lengthAdjust="spacingAndGlyphs" >25 mg/kg</text>
<line x1="56.70" y1="272.00" x2="76.00" y2="272.00" stroke="#a8d08a" stroke-width="1.6" />
<polygon points="66.35,269.44 68.60,273.71 64.10,273.71" fill="#a8d08a"/>
<text x="77.90" y="277.90" font-size="14.6" text-anchor="start" fill="#000" class="b" textLength="62.5" lengthAdjust="spacingAndGlyphs" >50 mg/kg</text>
<text x="1.20" y="232.00" font-size="24.5" text-anchor="start" fill="#000" font-weight="bold" >C</text>
<rect x="303.50" y="320.56" width="193.50" height="49.81" fill="#eeeff1"/>
<line x1="301.30" y1="238.70" x2="301.30" y2="383.80" stroke="#000" stroke-width="2.3" />
<line x1="300.20" y1="382.70" x2="500.00" y2="382.70" stroke="#000" stroke-width="2.3" />
<line x1="297.80" y1="383.00" x2="301.30" y2="383.00" stroke="#000" stroke-width="1.3" />
<text x="297.00" y="387.30" font-size="12" text-anchor="end" fill="#000" >25</text>
<line x1="297.80" y1="359.17" x2="301.30" y2="359.17" stroke="#000" stroke-width="1.3" />
<text x="297.00" y="363.46" font-size="12" text-anchor="end" fill="#000" >35</text>
<line x1="297.80" y1="335.33" x2="301.30" y2="335.33" stroke="#000" stroke-width="1.3" />
<text x="297.00" y="339.63" font-size="12" text-anchor="end" fill="#000" >45</text>
<line x1="297.80" y1="311.50" x2="301.30" y2="311.50" stroke="#000" stroke-width="1.3" />
<text x="297.00" y="315.80" font-size="12" text-anchor="end" fill="#000" >55</text>
<line x1="297.80" y1="287.67" x2="301.30" y2="287.67" stroke="#000" stroke-width="1.3" />
<text x="297.00" y="291.96" font-size="12" text-anchor="end" fill="#000" >65</text>
<line x1="297.80" y1="263.83" x2="301.30" y2="263.83" stroke="#000" stroke-width="1.3" />
<text x="297.00" y="268.13" font-size="12" text-anchor="end" fill="#000" >75</text>
<line x1="297.80" y1="240.00" x2="301.30" y2="240.00" stroke="#000" stroke-width="1.3" />
<text x="297.00" y="244.30" font-size="12" text-anchor="end" fill="#000" >85</text>
<text x="310.20" y="393.20" font-size="10.5" text-anchor="middle" fill="#000" >-1</text>
<text x="328.23" y="393.20" font-size="10.5" text-anchor="middle" fill="#000" >19</text>
<text x="346.26" y="393.20" font-size="10.5" text-anchor="middle" fill="#000" >23</text>
<text x="364.29" y="393.20" font-size="10.5" text-anchor="middle" fill="#000" >29</text>
<text x="382.32" y="393.20" font-size="10.5" text-anchor="middle" fill="#000" >34</text>
<text x="400.35" y="393.20" font-size="10.5" text-anchor="middle" fill="#000" >40</text>
<text x="418.38" y="393.20" font-size="10.5" text-anchor="middle" fill="#000" >48</text>
<text x="436.41" y="393.20" font-size="10.5" text-anchor="middle" fill="#000" >55</text>
<text x="454.44" y="393.20" font-size="10.5" text-anchor="middle" fill="#000" >62</text>
<text x="472.47" y="393.20" font-size="10.5" text-anchor="middle" fill="#000" >72</text>
<text x="490.50" y="393.20" font-size="10.5" text-anchor="middle" fill="#000" >83</text>
<text x="397.40" y="414.30" font-size="13.5" text-anchor="middle" fill="#000" class="b" textLength="93.7" lengthAdjust="spacingAndGlyphs" >Days after BMT</text>
<text x="274.10" y="311.95" font-size="14.4" text-anchor="middle" fill="#000" class="b" textLength="144.3" lengthAdjust="spacingAndGlyphs" transform="rotate(-90 274.10 311.95)" >Granulocytes in PB (%)</text>
<line x1="310.50" y1="368.70" x2="310.50" y2="373.47" stroke="#333" stroke-width="1.3" />
<line x1="308.40" y1="368.70" x2="312.60" y2="368.70" stroke="#333" stroke-width="1.3" />
<line x1="308.40" y1="373.47" x2="312.60" y2="373.47" stroke="#333" stroke-width="1.3" />
<line x1="328.50" y1="296.72" x2="328.50" y2="306.26" stroke="#333" stroke-width="1.3" />
<line x1="326.40" y1="296.72" x2="330.60" y2="296.72" stroke="#333" stroke-width="1.3" />
<line x1="326.40" y1="306.26" x2="330.60" y2="306.26" stroke="#333" stroke-width="1.3" />
<line x1="346.50" y1="287.19" x2="346.50" y2="297.68" stroke="#333" stroke-width="1.3" />
<line x1="344.40" y1="287.19" x2="348.60" y2="287.19" stroke="#333" stroke-width="1.3" />
<line x1="344.40" y1="297.68" x2="348.60" y2="297.68" stroke="#333" stroke-width="1.3" />
<line x1="364.50" y1="279.09" x2="364.50" y2="286.24" stroke="#333" stroke-width="1.3" />
<line x1="362.40" y1="279.09" x2="366.60" y2="279.09" stroke="#333" stroke-width="1.3" />
<line x1="362.40" y1="286.24" x2="366.60" y2="286.24" stroke="#333" stroke-width="1.3" />
<line x1="382.50" y1="254.06" x2="382.50" y2="259.78" stroke="#333" stroke-width="1.3" />
<line x1="380.40" y1="254.06" x2="384.60" y2="254.06" stroke="#333" stroke-width="1.3" />
<line x1="380.40" y1="259.78" x2="384.60" y2="259.78" stroke="#333" stroke-width="1.3" />
<line x1="400.50" y1="246.91" x2="400.50" y2="253.11" stroke="#333" stroke-width="1.3" />
<line x1="398.40" y1="246.91" x2="402.60" y2="246.91" stroke="#333" stroke-width="1.3" />
<line x1="398.40" y1="253.11" x2="402.60" y2="253.11" stroke="#333" stroke-width="1.3" />
<line x1="418.50" y1="247.15" x2="418.50" y2="259.07" stroke="#333" stroke-width="1.3" />
<line x1="416.40" y1="247.15" x2="420.60" y2="247.15" stroke="#333" stroke-width="1.3" />
<line x1="416.40" y1="259.07" x2="420.60" y2="259.07" stroke="#333" stroke-width="1.3" />
<line x1="436.50" y1="252.63" x2="436.50" y2="267.41" stroke="#333" stroke-width="1.3" />
<line x1="434.40" y1="252.63" x2="438.60" y2="252.63" stroke="#333" stroke-width="1.3" />
<line x1="434.40" y1="267.41" x2="438.60" y2="267.41" stroke="#333" stroke-width="1.3" />
<line x1="454.50" y1="266.45" x2="454.50" y2="281.71" stroke="#333" stroke-width="1.3" />
<line x1="452.40" y1="266.45" x2="456.60" y2="266.45" stroke="#333" stroke-width="1.3" />
<line x1="452.40" y1="281.71" x2="456.60" y2="281.71" stroke="#333" stroke-width="1.3" />
<line x1="472.50" y1="259.07" x2="472.50" y2="269.79" stroke="#333" stroke-width="1.3" />
<line x1="470.40" y1="259.07" x2="474.60" y2="259.07" stroke="#333" stroke-width="1.3" />
<line x1="470.40" y1="269.79" x2="474.60" y2="269.79" stroke="#333" stroke-width="1.3" />
<line x1="490.50" y1="256.45" x2="490.50" y2="272.18" stroke="#333" stroke-width="1.3" />
<line x1="488.40" y1="256.45" x2="492.60" y2="256.45" stroke="#333" stroke-width="1.3" />
<line x1="488.40" y1="272.18" x2="492.60" y2="272.18" stroke="#333" stroke-width="1.3" />
<line x1="310.50" y1="374.66" x2="310.50" y2="381.81" stroke="#333" stroke-width="1.3" />
<line x1="308.40" y1="374.66" x2="312.60" y2="374.66" stroke="#333" stroke-width="1.3" />
<line x1="308.40" y1="381.81" x2="312.60" y2="381.81" stroke="#333" stroke-width="1.3" />
<line x1="328.50" y1="294.82" x2="328.50" y2="311.26" stroke="#333" stroke-width="1.3" />
<line x1="326.40" y1="294.82" x2="330.60" y2="294.82" stroke="#333" stroke-width="1.3" />
<line x1="326.40" y1="311.26" x2="330.60" y2="311.26" stroke="#333" stroke-width="1.3" />
<line x1="346.50" y1="300.06" x2="346.50" y2="304.83" stroke="#333" stroke-width="1.3" />
<line x1="344.40" y1="300.06" x2="348.60" y2="300.06" stroke="#333" stroke-width="1.3" />
<line x1="344.40" y1="304.83" x2="348.60" y2="304.83" stroke="#333" stroke-width="1.3" />
<line x1="364.50" y1="282.66" x2="364.50" y2="289.81" stroke="#333" stroke-width="1.3" />
<line x1="362.40" y1="282.66" x2="366.60" y2="282.66" stroke="#333" stroke-width="1.3" />
<line x1="362.40" y1="289.81" x2="366.60" y2="289.81" stroke="#333" stroke-width="1.3" />
<line x1="382.50" y1="254.30" x2="382.50" y2="271.70" stroke="#333" stroke-width="1.3" />
<line x1="380.40" y1="254.30" x2="384.60" y2="254.30" stroke="#333" stroke-width="1.3" />
<line x1="380.40" y1="271.70" x2="384.60" y2="271.70" stroke="#333" stroke-width="1.3" />
<line x1="400.50" y1="281.23" x2="400.50" y2="290.76" stroke="#333" stroke-width="1.3" />
<line x1="398.40" y1="281.23" x2="402.60" y2="281.23" stroke="#333" stroke-width="1.3" />
<line x1="398.40" y1="290.76" x2="402.60" y2="290.76" stroke="#333" stroke-width="1.3" />
<line x1="418.50" y1="266.93" x2="418.50" y2="276.46" stroke="#333" stroke-width="1.3" />
<line x1="416.40" y1="266.93" x2="420.60" y2="266.93" stroke="#333" stroke-width="1.3" />
<line x1="416.40" y1="276.46" x2="420.60" y2="276.46" stroke="#333" stroke-width="1.3" />
<line x1="436.50" y1="271.70" x2="436.50" y2="295.29" stroke="#333" stroke-width="1.3" />
<line x1="434.40" y1="271.70" x2="438.60" y2="271.70" stroke="#333" stroke-width="1.3" />
<line x1="434.40" y1="295.29" x2="438.60" y2="295.29" stroke="#333" stroke-width="1.3" />
<line x1="454.50" y1="275.75" x2="454.50" y2="294.10" stroke="#333" stroke-width="1.3" />
<line x1="452.40" y1="275.75" x2="456.60" y2="275.75" stroke="#333" stroke-width="1.3" />
<line x1="452.40" y1="294.10" x2="456.60" y2="294.10" stroke="#333" stroke-width="1.3" />
<line x1="472.50" y1="269.55" x2="472.50" y2="301.25" stroke="#333" stroke-width="1.3" />
<line x1="470.40" y1="269.55" x2="474.60" y2="269.55" stroke="#333" stroke-width="1.3" />
<line x1="470.40" y1="301.25" x2="474.60" y2="301.25" stroke="#333" stroke-width="1.3" />
<line x1="490.50" y1="272.89" x2="490.50" y2="301.25" stroke="#333" stroke-width="1.3" />
<line x1="488.40" y1="272.89" x2="492.60" y2="272.89" stroke="#333" stroke-width="1.3" />
<line x1="488.40" y1="301.25" x2="492.60" y2="301.25" stroke="#333" stroke-width="1.3" />
<line x1="310.50" y1="375.85" x2="310.50" y2="380.62" stroke="#333" stroke-width="1.3" />
<line x1="308.40" y1="375.85" x2="312.60" y2="375.85" stroke="#333" stroke-width="1.3" />
<line x1="308.40" y1="380.62" x2="312.60" y2="380.62" stroke="#333" stroke-width="1.3" />
<line x1="328.50" y1="297.91" x2="328.50" y2="305.06" stroke="#333" stroke-width="1.3" />
<line x1="326.40" y1="297.91" x2="330.60" y2="297.91" stroke="#333" stroke-width="1.3" />
<line x1="326.40" y1="305.06" x2="330.60" y2="305.06" stroke="#333" stroke-width="1.3" />
<line x1="346.50" y1="300.06" x2="346.50" y2="304.83" stroke="#333" stroke-width="1.3" />
<line x1="344.40" y1="300.06" x2="348.60" y2="300.06" stroke="#333" stroke-width="1.3" />
<line x1="344.40" y1="304.83" x2="348.60" y2="304.83" stroke="#333" stroke-width="1.3" />
<line x1="364.50" y1="291.24" x2="364.50" y2="300.54" stroke="#333" stroke-width="1.3" />
<line x1="362.40" y1="291.24" x2="366.60" y2="291.24" stroke="#333" stroke-width="1.3" />
<line x1="362.40" y1="300.54" x2="366.60" y2="300.54" stroke="#333" stroke-width="1.3" />
<line x1="382.50" y1="260.26" x2="382.50" y2="269.79" stroke="#333" stroke-width="1.3" />
<line x1="380.40" y1="260.26" x2="384.60" y2="260.26" stroke="#333" stroke-width="1.3" />
<line x1="380.40" y1="269.79" x2="384.60" y2="269.79" stroke="#333" stroke-width="1.3" />
<line x1="400.50" y1="286.00" x2="400.50" y2="295.53" stroke="#333" stroke-width="1.3" />
<line x1="398.40" y1="286.00" x2="402.60" y2="286.00" stroke="#333" stroke-width="1.3" />
<line x1="398.40" y1="295.53" x2="402.60" y2="295.53" stroke="#333" stroke-width="1.3" />
<line x1="418.50" y1="313.64" x2="418.50" y2="324.61" stroke="#333" stroke-width="1.3" />
<line x1="416.40" y1="313.64" x2="420.60" y2="313.64" stroke="#333" stroke-width="1.3" />
<line x1="416.40" y1="324.61" x2="420.60" y2="324.61" stroke="#333" stroke-width="1.3" />
<line x1="436.50" y1="290.76" x2="436.50" y2="313.88" stroke="#333" stroke-width="1.3" />
<line x1="434.40" y1="290.76" x2="438.60" y2="290.76" stroke="#333" stroke-width="1.3" />
<line x1="434.40" y1="313.88" x2="438.60" y2="313.88" stroke="#333" stroke-width="1.3" />
<line x1="454.50" y1="316.27" x2="454.50" y2="335.33" stroke="#333" stroke-width="1.3" />
<line x1="452.40" y1="316.27" x2="456.60" y2="316.27" stroke="#333" stroke-width="1.3" />
<line x1="452.40" y1="335.33" x2="456.60" y2="335.33" stroke="#333" stroke-width="1.3" />
<line x1="472.50" y1="306.73" x2="472.50" y2="323.65" stroke="#333" stroke-width="1.3" />
<line x1="470.40" y1="306.73" x2="474.60" y2="306.73" stroke="#333" stroke-width="1.3" />
<line x1="470.40" y1="323.65" x2="474.60" y2="323.65" stroke="#333" stroke-width="1.3" />
<line x1="490.50" y1="310.79" x2="490.50" y2="331.04" stroke="#333" stroke-width="1.3" />
<line x1="488.40" y1="310.79" x2="492.60" y2="310.79" stroke="#333" stroke-width="1.3" />
<line x1="488.40" y1="331.04" x2="492.60" y2="331.04" stroke="#333" stroke-width="1.3" />
<polyline points="310.20,371.08 328.23,301.49 346.26,291.96 364.29,282.66 382.32,256.92 400.35,250.25 418.38,253.11 436.41,260.02 454.44,273.84 472.47,264.31 490.50,264.31" fill="none" stroke="#dd2a35" stroke-width="2.3" stroke-linejoin="round"/>
<polygon points="310.20,367.33 313.95,371.08 310.20,374.83 306.45,371.08" fill="#dd2a35"/>
<polygon points="328.23,297.74 331.98,301.49 328.23,305.24 324.48,301.49" fill="#dd2a35"/>
<polygon points="346.26,288.21 350.01,291.96 346.26,295.71 342.51,291.96" fill="#dd2a35"/>
<polygon points="364.29,278.91 368.04,282.66 364.29,286.41 360.54,282.66" fill="#dd2a35"/>
<polygon points="382.32,253.17 386.07,256.92 382.32,260.67 378.57,256.92" fill="#dd2a35"/>
<polygon points="400.35,246.50 404.10,250.25 400.35,254.00 396.60,250.25" fill="#dd2a35"/>
<polygon points="418.38,249.36 422.13,253.11 418.38,256.86 414.63,253.11" fill="#dd2a35"/>
<polygon points="436.41,256.27 440.16,260.02 436.41,263.77 432.66,260.02" fill="#dd2a35"/>
<polygon points="454.44,270.09 458.19,273.84 454.44,277.59 450.69,273.84" fill="#dd2a35"/>
<polygon points="472.47,260.56 476.22,264.31 472.47,268.06 468.72,264.31" fill="#dd2a35"/>
<polygon points="490.50,260.56 494.25,264.31 490.50,268.06 486.75,264.31" fill="#dd2a35"/>
<polyline points="310.20,378.23 328.23,304.35 346.26,302.44 364.29,286.24 382.32,260.74 400.35,286.00 418.38,271.70 436.41,279.09 454.44,283.38 472.47,285.52 490.50,284.81" fill="none" stroke="#1fa8e0" stroke-width="2.3" stroke-linejoin="round"/>
<rect x="306.70" y="374.73" width="7.00" height="7.00" fill="#1fa8e0"/>
<rect x="324.73" y="300.85" width="7.00" height="7.00" fill="#1fa8e0"/>
<rect x="342.76" y="298.94" width="7.00" height="7.00" fill="#1fa8e0"/>
<rect x="360.79" y="282.74" width="7.00" height="7.00" fill="#1fa8e0"/>
<rect x="378.82" y="257.24" width="7.00" height="7.00" fill="#1fa8e0"/>
<rect x="396.85" y="282.50" width="7.00" height="7.00" fill="#1fa8e0"/>
<rect x="414.88" y="268.20" width="7.00" height="7.00" fill="#1fa8e0"/>
<rect x="432.91" y="275.59" width="7.00" height="7.00" fill="#1fa8e0"/>
<rect x="450.94" y="279.88" width="7.00" height="7.00" fill="#1fa8e0"/>
<rect x="468.97" y="282.02" width="7.00" height="7.00" fill="#1fa8e0"/>
<rect x="487.00" y="281.31" width="7.00" height="7.00" fill="#1fa8e0"/>
<polyline points="310.20,378.23 328.23,301.49 346.26,302.44 364.29,295.77 382.32,265.02 400.35,290.76 418.38,318.65 436.41,301.25 454.44,326.75 472.47,314.60 490.50,321.03" fill="none" stroke="#9dc784" stroke-width="2.3" stroke-linejoin="round"/>
<polygon points="310.20,373.96 313.95,381.08 306.45,381.08" fill="#9dc784"/>
<polygon points="328.23,297.22 331.98,304.34 324.48,304.34" fill="#9dc784"/>
<polygon points="346.26,298.17 350.01,305.29 342.51,305.29" fill="#9dc784"/>
<polygon points="364.29,291.50 368.04,298.62 360.54,298.62" fill="#9dc784"/>
<polygon points="382.32,260.75 386.07,267.88 378.57,267.88" fill="#9dc784"/>
<polygon points="400.35,286.49 404.10,293.62 396.60,293.62" fill="#9dc784"/>
<polygon points="418.38,314.38 422.13,321.50 414.63,321.50" fill="#9dc784"/>
<polygon points="436.41,296.98 440.16,304.10 432.66,304.10" fill="#9dc784"/>
<polygon points="454.44,322.48 458.19,329.60 450.69,329.60" fill="#9dc784"/>
<polygon points="472.47,310.32 476.22,317.45 468.72,317.45" fill="#9dc784"/>
<polygon points="490.50,316.76 494.25,323.88 486.75,323.88" fill="#9dc784"/>
<polygon points="400.35,301.83 401.14,303.73 403.20,303.90 401.63,305.24 402.11,307.25 400.35,306.18 398.59,307.25 399.07,305.24 397.50,303.90 399.56,303.73" fill="#000"/>
<polygon points="418.38,327.09 419.17,329.00 421.23,329.16 419.66,330.51 420.14,332.52 418.38,331.44 416.62,332.52 417.10,330.51 415.53,329.16 417.59,329.00" fill="#000"/>
<polygon points="436.41,317.56 437.20,319.46 439.26,319.63 437.69,320.97 438.17,322.98 436.41,321.91 434.65,322.98 435.13,320.97 433.56,319.63 435.62,319.46" fill="#000"/>
<polygon points="454.44,338.77 455.23,340.68 457.29,340.84 455.72,342.19 456.20,344.20 454.44,343.12 452.68,344.20 453.16,342.19 451.59,340.84 453.65,340.68" fill="#000"/>
<polygon points="472.47,327.33 473.26,329.24 475.32,329.40 473.75,330.75 474.23,332.76 472.47,331.68 470.71,332.76 471.19,330.75 469.62,329.40 471.68,329.24" fill="#000"/>
<polygon points="490.50,334.95 491.29,336.86 493.35,337.03 491.78,338.37 492.26,340.38 490.50,339.31 488.74,340.38 489.22,338.37 487.65,337.03 489.71,336.86" fill="#000"/>
<polygon points="382.40,287.70 385.90,298.70 383.75,297.10 383.75,302.70 381.05,302.70 381.05,297.10 378.90,298.70" fill="#000"/>
<text x="381.20" y="313.10" font-size="11.5" text-anchor="middle" fill="#000" >Tx</text>
<line x1="306.70" y1="217.60" x2="326.00" y2="217.60" stroke="#dd2a35" stroke-width="1.8" />
<polygon points="316.35,215.35 318.60,217.60 316.35,219.85 314.10,217.60" fill="#dd2a35"/>
<text x="334.20" y="221.40" font-size="14.6" text-anchor="start" fill="#000" class="b" textLength="53.9" lengthAdjust="spacingAndGlyphs" >0 mg/kg</text>
<line x1="306.70" y1="231.50" x2="326.00" y2="231.50" stroke="#1fa8e0" stroke-width="1.8" />
<rect x="314.10" y="229.25" width="4.50" height="4.50" fill="#1fa8e0"/>
<text x="327.90" y="235.00" font-size="14.6" text-anchor="start" fill="#000" class="b" textLength="61.5" lengthAdjust="spacingAndGlyphs" >25 mg/kg</text>
<line x1="306.70" y1="245.30" x2="326.00" y2="245.30" stroke="#9dc784" stroke-width="1.8" />
<polygon points="316.35,242.74 318.60,247.01 314.10,247.01" fill="#9dc784"/>
<text x="327.90" y="248.90" font-size="14.6" text-anchor="start" fill="#000" class="b" textLength="61.5" lengthAdjust="spacingAndGlyphs" >50 mg/kg</text>
<text x="263.00" y="229.20" font-size="23.5" text-anchor="start" fill="#000" font-weight="bold" >D</text>
<rect x="45.80" y="475.54" width="194.20" height="57.60" fill="#eeeff1"/>
<line x1="41.50" y1="453.00" x2="41.50" y2="595.90" stroke="#000" stroke-width="2.3" />
<line x1="40.40" y1="594.80" x2="242.50" y2="594.80" stroke="#000" stroke-width="2.3" />
<line x1="38.00" y1="594.50" x2="41.50" y2="594.50" stroke="#000" stroke-width="1.3" />
<text x="37.20" y="598.80" font-size="12" text-anchor="end" fill="#000" >10</text>
<line x1="38.00" y1="571.08" x2="41.50" y2="571.08" stroke="#000" stroke-width="1.3" />
<text x="37.20" y="575.38" font-size="12" text-anchor="end" fill="#000" >20</text>
<line x1="38.00" y1="547.67" x2="41.50" y2="547.67" stroke="#000" stroke-width="1.3" />
<text x="37.20" y="551.96" font-size="12" text-anchor="end" fill="#000" >30</text>
<line x1="38.00" y1="524.25" x2="41.50" y2="524.25" stroke="#000" stroke-width="1.3" />
<text x="37.20" y="528.55" font-size="12" text-anchor="end" fill="#000" >40</text>
<line x1="38.00" y1="500.83" x2="41.50" y2="500.83" stroke="#000" stroke-width="1.3" />
<text x="37.20" y="505.13" font-size="12" text-anchor="end" fill="#000" >50</text>
<line x1="38.00" y1="477.42" x2="41.50" y2="477.42" stroke="#000" stroke-width="1.3" />
<text x="37.20" y="481.71" font-size="12" text-anchor="end" fill="#000" >60</text>
<line x1="38.00" y1="454.00" x2="41.50" y2="454.00" stroke="#000" stroke-width="1.3" />
<text x="37.20" y="458.30" font-size="12" text-anchor="end" fill="#000" >70</text>
<text x="50.40" y="606.30" font-size="10.4" text-anchor="middle" fill="#000" >-1</text>
<text x="68.83" y="606.30" font-size="10.4" text-anchor="middle" fill="#000" >19</text>
<text x="87.26" y="606.30" font-size="10.4" text-anchor="middle" fill="#000" >23</text>
<text x="105.69" y="606.30" font-size="10.4" text-anchor="middle" fill="#000" >29</text>
<text x="124.12" y="606.30" font-size="10.4" text-anchor="middle" fill="#000" >34</text>
<text x="142.55" y="606.30" font-size="10.4" text-anchor="middle" fill="#000" >40</text>
<text x="160.98" y="606.30" font-size="10.4" text-anchor="middle" fill="#000" >48</text>
<text x="179.41" y="606.30" font-size="10.4" text-anchor="middle" fill="#000" >55</text>
<text x="197.84" y="606.30" font-size="10.4" text-anchor="middle" fill="#000" >62</text>
<text x="216.27" y="606.30" font-size="10.4" text-anchor="middle" fill="#000" >72</text>
<text x="234.70" y="606.30" font-size="10.4" text-anchor="middle" fill="#000" >83</text>
<text x="136.40" y="623.10" font-size="13.5" text-anchor="middle" fill="#000" class="b" textLength="94" lengthAdjust="spacingAndGlyphs" >Days after BMT</text>
<text x="13.70" y="522.65" font-size="13.8" text-anchor="middle" fill="#000" class="b" textLength="145.7" lengthAdjust="spacingAndGlyphs" transform="rotate(-90 13.70 522.65)" >Lymphocytes in PB (%)</text>
<line x1="50.50" y1="478.82" x2="50.50" y2="483.50" stroke="#4a4a4a" stroke-width="1.3" />
<line x1="48.40" y1="478.82" x2="52.60" y2="478.82" stroke="#4a4a4a" stroke-width="1.3" />
<line x1="48.40" y1="483.50" x2="52.60" y2="483.50" stroke="#4a4a4a" stroke-width="1.3" />
<line x1="68.50" y1="533.62" x2="68.50" y2="544.15" stroke="#4a4a4a" stroke-width="1.3" />
<line x1="66.40" y1="533.62" x2="70.60" y2="533.62" stroke="#4a4a4a" stroke-width="1.3" />
<line x1="66.40" y1="544.15" x2="70.60" y2="544.15" stroke="#4a4a4a" stroke-width="1.3" />
<line x1="87.50" y1="543.45" x2="87.50" y2="553.52" stroke="#4a4a4a" stroke-width="1.3" />
<line x1="85.40" y1="543.45" x2="89.60" y2="543.45" stroke="#4a4a4a" stroke-width="1.3" />
<line x1="85.40" y1="553.52" x2="89.60" y2="553.52" stroke="#4a4a4a" stroke-width="1.3" />
<line x1="105.50" y1="551.88" x2="105.50" y2="556.57" stroke="#4a4a4a" stroke-width="1.3" />
<line x1="103.40" y1="551.88" x2="107.60" y2="551.88" stroke="#4a4a4a" stroke-width="1.3" />
<line x1="103.40" y1="556.57" x2="107.60" y2="556.57" stroke="#4a4a4a" stroke-width="1.3" />
<line x1="124.50" y1="575.30" x2="124.50" y2="579.98" stroke="#4a4a4a" stroke-width="1.3" />
<line x1="122.40" y1="575.30" x2="126.60" y2="575.30" stroke="#4a4a4a" stroke-width="1.3" />
<line x1="122.40" y1="579.98" x2="126.60" y2="579.98" stroke="#4a4a4a" stroke-width="1.3" />
<line x1="142.50" y1="579.51" x2="142.50" y2="586.07" stroke="#4a4a4a" stroke-width="1.3" />
<line x1="140.40" y1="579.51" x2="144.60" y2="579.51" stroke="#4a4a4a" stroke-width="1.3" />
<line x1="140.40" y1="586.07" x2="144.60" y2="586.07" stroke="#4a4a4a" stroke-width="1.3" />
<line x1="160.50" y1="577.41" x2="160.50" y2="584.90" stroke="#4a4a4a" stroke-width="1.3" />
<line x1="158.40" y1="577.41" x2="162.60" y2="577.41" stroke="#4a4a4a" stroke-width="1.3" />
<line x1="158.40" y1="584.90" x2="162.60" y2="584.90" stroke="#4a4a4a" stroke-width="1.3" />
<line x1="179.50" y1="571.08" x2="179.50" y2="580.45" stroke="#4a4a4a" stroke-width="1.3" />
<line x1="177.40" y1="571.08" x2="181.60" y2="571.08" stroke="#4a4a4a" stroke-width="1.3" />
<line x1="177.40" y1="580.45" x2="181.60" y2="580.45" stroke="#4a4a4a" stroke-width="1.3" />
<line x1="197.50" y1="558.67" x2="197.50" y2="570.62" stroke="#4a4a4a" stroke-width="1.3" />
<line x1="195.40" y1="558.67" x2="199.60" y2="558.67" stroke="#4a4a4a" stroke-width="1.3" />
<line x1="195.40" y1="570.62" x2="199.60" y2="570.62" stroke="#4a4a4a" stroke-width="1.3" />
<line x1="216.50" y1="568.74" x2="216.50" y2="577.41" stroke="#4a4a4a" stroke-width="1.3" />
<line x1="214.40" y1="568.74" x2="218.60" y2="568.74" stroke="#4a4a4a" stroke-width="1.3" />
<line x1="214.40" y1="577.41" x2="218.60" y2="577.41" stroke="#4a4a4a" stroke-width="1.3" />
<line x1="234.50" y1="568.04" x2="234.50" y2="576.70" stroke="#4a4a4a" stroke-width="1.3" />
<line x1="232.40" y1="568.04" x2="236.60" y2="568.04" stroke="#4a4a4a" stroke-width="1.3" />
<line x1="232.40" y1="576.70" x2="236.60" y2="576.70" stroke="#4a4a4a" stroke-width="1.3" />
<line x1="50.50" y1="471.09" x2="50.50" y2="475.78" stroke="#4a4a4a" stroke-width="1.3" />
<line x1="48.40" y1="471.09" x2="52.60" y2="471.09" stroke="#4a4a4a" stroke-width="1.3" />
<line x1="48.40" y1="475.78" x2="52.60" y2="475.78" stroke="#4a4a4a" stroke-width="1.3" />
<line x1="68.50" y1="531.04" x2="68.50" y2="538.07" stroke="#4a4a4a" stroke-width="1.3" />
<line x1="66.40" y1="531.04" x2="70.60" y2="531.04" stroke="#4a4a4a" stroke-width="1.3" />
<line x1="66.40" y1="538.07" x2="70.60" y2="538.07" stroke="#4a4a4a" stroke-width="1.3" />
<line x1="87.50" y1="533.15" x2="87.50" y2="537.83" stroke="#4a4a4a" stroke-width="1.3" />
<line x1="85.40" y1="533.15" x2="89.60" y2="533.15" stroke="#4a4a4a" stroke-width="1.3" />
<line x1="85.40" y1="537.83" x2="89.60" y2="537.83" stroke="#4a4a4a" stroke-width="1.3" />
<line x1="105.50" y1="546.96" x2="105.50" y2="553.99" stroke="#4a4a4a" stroke-width="1.3" />
<line x1="103.40" y1="546.96" x2="107.60" y2="546.96" stroke="#4a4a4a" stroke-width="1.3" />
<line x1="103.40" y1="553.99" x2="107.60" y2="553.99" stroke="#4a4a4a" stroke-width="1.3" />
<line x1="124.50" y1="571.79" x2="124.50" y2="576.47" stroke="#4a4a4a" stroke-width="1.3" />
<line x1="122.40" y1="571.79" x2="126.60" y2="571.79" stroke="#4a4a4a" stroke-width="1.3" />
<line x1="122.40" y1="576.47" x2="126.60" y2="576.47" stroke="#4a4a4a" stroke-width="1.3" />
<line x1="142.50" y1="548.84" x2="142.50" y2="558.20" stroke="#4a4a4a" stroke-width="1.3" />
<line x1="140.40" y1="548.84" x2="144.60" y2="548.84" stroke="#4a4a4a" stroke-width="1.3" />
<line x1="140.40" y1="558.20" x2="144.60" y2="558.20" stroke="#4a4a4a" stroke-width="1.3" />
<line x1="160.50" y1="564.29" x2="160.50" y2="571.32" stroke="#4a4a4a" stroke-width="1.3" />
<line x1="158.40" y1="564.29" x2="162.60" y2="564.29" stroke="#4a4a4a" stroke-width="1.3" />
<line x1="158.40" y1="571.32" x2="162.60" y2="571.32" stroke="#4a4a4a" stroke-width="1.3" />
<line x1="179.50" y1="544.15" x2="179.50" y2="572.96" stroke="#4a4a4a" stroke-width="1.3" />
<line x1="177.40" y1="544.15" x2="181.60" y2="544.15" stroke="#4a4a4a" stroke-width="1.3" />
<line x1="177.40" y1="572.96" x2="181.60" y2="572.96" stroke="#4a4a4a" stroke-width="1.3" />
<line x1="197.50" y1="549.07" x2="197.50" y2="565.46" stroke="#4a4a4a" stroke-width="1.3" />
<line x1="195.40" y1="549.07" x2="199.60" y2="549.07" stroke="#4a4a4a" stroke-width="1.3" />
<line x1="195.40" y1="565.46" x2="199.60" y2="565.46" stroke="#4a4a4a" stroke-width="1.3" />
<line x1="216.50" y1="537.13" x2="216.50" y2="578.11" stroke="#4a4a4a" stroke-width="1.3" />
<line x1="214.40" y1="537.13" x2="218.60" y2="537.13" stroke="#4a4a4a" stroke-width="1.3" />
<line x1="214.40" y1="578.11" x2="218.60" y2="578.11" stroke="#4a4a4a" stroke-width="1.3" />
<line x1="234.50" y1="541.81" x2="234.50" y2="580.22" stroke="#4a4a4a" stroke-width="1.3" />
<line x1="232.40" y1="541.81" x2="236.60" y2="541.81" stroke="#4a4a4a" stroke-width="1.3" />
<line x1="232.40" y1="580.22" x2="236.60" y2="580.22" stroke="#4a4a4a" stroke-width="1.3" />
<line x1="50.50" y1="473.90" x2="50.50" y2="478.59" stroke="#4a4a4a" stroke-width="1.3" />
<line x1="48.40" y1="473.90" x2="52.60" y2="473.90" stroke="#4a4a4a" stroke-width="1.3" />
<line x1="48.40" y1="478.59" x2="52.60" y2="478.59" stroke="#4a4a4a" stroke-width="1.3" />
<line x1="68.50" y1="534.79" x2="68.50" y2="544.15" stroke="#4a4a4a" stroke-width="1.3" />
<line x1="66.40" y1="534.79" x2="70.60" y2="534.79" stroke="#4a4a4a" stroke-width="1.3" />
<line x1="66.40" y1="544.15" x2="70.60" y2="544.15" stroke="#4a4a4a" stroke-width="1.3" />
<line x1="87.50" y1="533.15" x2="87.50" y2="537.83" stroke="#4a4a4a" stroke-width="1.3" />
<line x1="85.40" y1="533.15" x2="89.60" y2="533.15" stroke="#4a4a4a" stroke-width="1.3" />
<line x1="85.40" y1="537.83" x2="89.60" y2="537.83" stroke="#4a4a4a" stroke-width="1.3" />
<line x1="105.50" y1="541.81" x2="105.50" y2="553.52" stroke="#4a4a4a" stroke-width="1.3" />
<line x1="103.40" y1="541.81" x2="107.60" y2="541.81" stroke="#4a4a4a" stroke-width="1.3" />
<line x1="103.40" y1="553.52" x2="107.60" y2="553.52" stroke="#4a4a4a" stroke-width="1.3" />
<line x1="124.50" y1="566.40" x2="124.50" y2="579.28" stroke="#4a4a4a" stroke-width="1.3" />
<line x1="122.40" y1="566.40" x2="126.60" y2="566.40" stroke="#4a4a4a" stroke-width="1.3" />
<line x1="122.40" y1="579.28" x2="126.60" y2="579.28" stroke="#4a4a4a" stroke-width="1.3" />
<line x1="142.50" y1="544.86" x2="142.50" y2="557.03" stroke="#4a4a4a" stroke-width="1.3" />
<line x1="140.40" y1="544.86" x2="144.60" y2="544.86" stroke="#4a4a4a" stroke-width="1.3" />
<line x1="140.40" y1="557.03" x2="144.60" y2="557.03" stroke="#4a4a4a" stroke-width="1.3" />
<line x1="160.50" y1="525.42" x2="160.50" y2="535.49" stroke="#4a4a4a" stroke-width="1.3" />
<line x1="158.40" y1="525.42" x2="162.60" y2="525.42" stroke="#4a4a4a" stroke-width="1.3" />
<line x1="158.40" y1="535.49" x2="162.60" y2="535.49" stroke="#4a4a4a" stroke-width="1.3" />
<line x1="179.50" y1="532.45" x2="179.50" y2="553.52" stroke="#4a4a4a" stroke-width="1.3" />
<line x1="177.40" y1="532.45" x2="181.60" y2="532.45" stroke="#4a4a4a" stroke-width="1.3" />
<line x1="177.40" y1="553.52" x2="181.60" y2="553.52" stroke="#4a4a4a" stroke-width="1.3" />
<line x1="197.50" y1="511.84" x2="197.50" y2="530.10" stroke="#4a4a4a" stroke-width="1.3" />
<line x1="195.40" y1="511.84" x2="199.60" y2="511.84" stroke="#4a4a4a" stroke-width="1.3" />
<line x1="195.40" y1="530.10" x2="199.60" y2="530.10" stroke="#4a4a4a" stroke-width="1.3" />
<line x1="216.50" y1="525.42" x2="216.50" y2="540.64" stroke="#4a4a4a" stroke-width="1.3" />
<line x1="214.40" y1="525.42" x2="218.60" y2="525.42" stroke="#4a4a4a" stroke-width="1.3" />
<line x1="214.40" y1="540.64" x2="218.60" y2="540.64" stroke="#4a4a4a" stroke-width="1.3" />
<line x1="234.50" y1="518.40" x2="234.50" y2="534.79" stroke="#4a4a4a" stroke-width="1.3" />
<line x1="232.40" y1="518.40" x2="236.60" y2="518.40" stroke="#4a4a4a" stroke-width="1.3" />
<line x1="232.40" y1="534.79" x2="236.60" y2="534.79" stroke="#4a4a4a" stroke-width="1.3" />
<polyline points="50.40,481.16 68.83,537.83 87.26,548.60 105.69,554.22 124.12,577.64 142.55,582.79 160.98,581.15 179.41,576.00 197.84,564.53 216.27,573.42 234.70,572.49" fill="none" stroke="#dd2a35" stroke-width="2.3" stroke-linejoin="round"/>
<polygon points="50.40,477.41 54.15,481.16 50.40,484.91 46.65,481.16" fill="#dd2a35"/>
<polygon points="68.83,534.08 72.58,537.83 68.83,541.58 65.08,537.83" fill="#dd2a35"/>
<polygon points="87.26,544.85 91.01,548.60 87.26,552.35 83.51,548.60" fill="#dd2a35"/>
<polygon points="105.69,550.47 109.44,554.22 105.69,557.97 101.94,554.22" fill="#dd2a35"/>
<polygon points="124.12,573.89 127.87,577.64 124.12,581.39 120.37,577.64" fill="#dd2a35"/>
<polygon points="142.55,579.04 146.30,582.79 142.55,586.54 138.80,582.79" fill="#dd2a35"/>
<polygon points="160.98,577.40 164.73,581.15 160.98,584.90 157.23,581.15" fill="#dd2a35"/>
<polygon points="179.41,572.25 183.16,576.00 179.41,579.75 175.66,576.00" fill="#dd2a35"/>
<polygon points="197.84,560.78 201.59,564.53 197.84,568.28 194.09,564.53" fill="#dd2a35"/>
<polygon points="216.27,569.67 220.02,573.42 216.27,577.17 212.52,573.42" fill="#dd2a35"/>
<polygon points="234.70,568.74 238.45,572.49 234.70,576.24 230.95,572.49" fill="#dd2a35"/>
<polyline points="50.40,473.44 68.83,534.55 87.26,535.49 105.69,550.48 124.12,574.13 142.55,553.52 160.98,567.80 179.41,555.16 197.84,557.27 216.27,556.10 234.70,554.22" fill="none" stroke="#1fa8e0" stroke-width="2.3" stroke-linejoin="round"/>
<rect x="46.90" y="469.94" width="7.00" height="7.00" fill="#1fa8e0"/>
<rect x="65.33" y="531.05" width="7.00" height="7.00" fill="#1fa8e0"/>
<rect x="83.76" y="531.99" width="7.00" height="7.00" fill="#1fa8e0"/>
<rect x="102.19" y="546.98" width="7.00" height="7.00" fill="#1fa8e0"/>
<rect x="120.62" y="570.63" width="7.00" height="7.00" fill="#1fa8e0"/>
<rect x="139.05" y="550.02" width="7.00" height="7.00" fill="#1fa8e0"/>
<rect x="157.48" y="564.30" width="7.00" height="7.00" fill="#1fa8e0"/>
<rect x="175.91" y="551.66" width="7.00" height="7.00" fill="#1fa8e0"/>
<rect x="194.34" y="553.77" width="7.00" height="7.00" fill="#1fa8e0"/>
<rect x="212.77" y="552.60" width="7.00" height="7.00" fill="#1fa8e0"/>
<rect x="231.20" y="550.72" width="7.00" height="7.00" fill="#1fa8e0"/>
<polyline points="50.40,476.25 68.83,539.47 87.26,535.49 105.69,547.67 124.12,572.49 142.55,550.71 160.98,528.70 179.41,542.98 197.84,520.50 216.27,533.38 234.70,527.53" fill="none" stroke="#a6c48c" stroke-width="2.3" stroke-linejoin="round"/>
<polygon points="50.40,471.97 54.15,479.10 46.65,479.10" fill="#a6c48c"/>
<polygon points="68.83,535.20 72.58,542.32 65.08,542.32" fill="#a6c48c"/>
<polygon points="87.26,531.22 91.01,538.34 83.51,538.34" fill="#a6c48c"/>
<polygon points="105.69,543.39 109.44,550.52 101.94,550.52" fill="#a6c48c"/>
<polygon points="124.12,568.21 127.87,575.34 120.37,575.34" fill="#a6c48c"/>
<polygon points="142.55,546.44 146.30,553.56 138.80,553.56" fill="#a6c48c"/>
<polygon points="160.98,524.42 164.73,531.55 157.23,531.55" fill="#a6c48c"/>
<polygon points="179.41,538.71 183.16,545.83 175.66,545.83" fill="#a6c48c"/>
<polygon points="197.84,516.23 201.59,523.35 194.09,523.35" fill="#a6c48c"/>
<polygon points="216.27,529.11 220.02,536.23 212.52,536.23" fill="#a6c48c"/>
<polygon points="234.70,523.25 238.45,530.38 230.95,530.38" fill="#a6c48c"/>
<polygon points="142.55,533.89 143.34,535.80 145.40,535.97 143.83,537.31 144.31,539.32 142.55,538.25 140.79,539.32 141.27,537.31 139.70,535.97 141.76,535.80" fill="#000"/>
<polygon points="160.98,515.86 161.77,517.77 163.83,517.94 162.26,519.28 162.74,521.29 160.98,520.21 159.22,521.29 159.70,519.28 158.13,517.94 160.19,517.77" fill="#000"/>
<polygon points="179.41,524.29 180.20,526.20 182.26,526.37 180.69,527.71 181.17,529.72 179.41,528.64 177.65,529.72 178.13,527.71 176.56,526.37 178.62,526.20" fill="#000"/>
<polygon points="197.84,501.58 198.63,503.49 200.69,503.65 199.12,505.00 199.60,507.01 197.84,505.93 196.08,507.01 196.56,505.00 194.99,503.65 197.05,503.49" fill="#000"/>
<polygon points="216.27,517.50 217.06,519.41 219.12,519.58 217.55,520.92 218.03,522.93 216.27,521.85 214.51,522.93 214.99,520.92 213.42,519.58 215.48,519.41" fill="#000"/>
<polygon points="234.70,510.24 235.49,512.15 237.55,512.32 235.98,513.66 236.46,515.67 234.70,514.59 232.94,515.67 233.42,513.66 231.85,512.32 233.91,512.15" fill="#000"/>
<polygon points="124.00,547.30 127.50,536.30 125.35,537.90 125.35,532.30 122.65,532.30 122.65,537.90 120.50,536.30" fill="#000"/>
<text x="123.30" y="529.60" font-size="11.5" text-anchor="middle" fill="#000" >Tx</text>
<line x1="56.40" y1="440.80" x2="75.80" y2="440.80" stroke="#dd2a35" stroke-width="1.8" />
<polygon points="66.10,438.55 68.35,440.80 66.10,443.05 63.85,440.80" fill="#dd2a35"/>
<text x="83.70" y="444.50" font-size="14.6" text-anchor="start" fill="#000" class="b" textLength="53.8" lengthAdjust="spacingAndGlyphs" >0 mg/kg</text>
<line x1="56.40" y1="454.70" x2="75.80" y2="454.70" stroke="#1fa8e0" stroke-width="1.8" />
<rect x="63.85" y="452.45" width="4.50" height="4.50" fill="#1fa8e0"/>
<text x="77.90" y="460.20" font-size="14.6" text-anchor="start" fill="#000" class="b" textLength="61.5" lengthAdjust="spacingAndGlyphs" >25 mg/kg</text>
<line x1="56.40" y1="468.20" x2="75.80" y2="468.20" stroke="#a6c48c" stroke-width="1.8" />
<polygon points="66.10,465.63 68.35,469.91 63.85,469.91" fill="#a6c48c"/>
<text x="77.90" y="474.40" font-size="14.6" text-anchor="start" fill="#000" class="b" textLength="61.5" lengthAdjust="spacingAndGlyphs" >50 mg/kg</text>
<text x="4.00" y="437.10" font-size="23.5" text-anchor="start" fill="#000" font-weight="bold" >E</text>
<rect x="309.20" y="507.51" width="17.30" height="88.49" fill="#dd2591"/>
<rect x="333.00" y="474.42" width="17.70" height="121.58" fill="#1878c6"/>
<rect x="358.80" y="521.79" width="17.80" height="74.21" fill="#1caa55"/>
<rect x="384.00" y="563.85" width="18.20" height="32.15" fill="#ee2a30"/>
<rect x="409.50" y="580.27" width="17.70" height="15.73" fill="#fbbf2e"/>
<line x1="317.50" y1="493.57" x2="317.50" y2="521.79" stroke="#222" stroke-width="1" />
<line x1="315.40" y1="493.57" x2="319.60" y2="493.57" stroke="#222" stroke-width="1" />
<line x1="315.40" y1="521.79" x2="319.60" y2="521.79" stroke="#222" stroke-width="1" />
<line x1="341.50" y1="463.13" x2="341.50" y2="486.73" stroke="#222" stroke-width="1" />
<line x1="339.40" y1="463.13" x2="343.60" y2="463.13" stroke="#222" stroke-width="1" />
<line x1="339.40" y1="486.73" x2="343.60" y2="486.73" stroke="#222" stroke-width="1" />
<line x1="367.50" y1="503.49" x2="367.50" y2="541.28" stroke="#222" stroke-width="1" />
<line x1="365.40" y1="503.49" x2="369.60" y2="503.49" stroke="#222" stroke-width="1" />
<line x1="365.40" y1="541.28" x2="369.60" y2="541.28" stroke="#222" stroke-width="1" />
<line x1="393.50" y1="553.76" x2="393.50" y2="574.97" stroke="#222" stroke-width="1" />
<line x1="391.40" y1="553.76" x2="395.60" y2="553.76" stroke="#222" stroke-width="1" />
<line x1="391.40" y1="574.97" x2="395.60" y2="574.97" stroke="#222" stroke-width="1" />
<line x1="418.50" y1="579.58" x2="418.50" y2="580.95" stroke="#222" stroke-width="1" />
<line x1="416.40" y1="579.58" x2="420.60" y2="579.58" stroke="#222" stroke-width="1" />
<line x1="416.40" y1="580.95" x2="420.60" y2="580.95" stroke="#222" stroke-width="1" />
<line x1="301.30" y1="441.80" x2="301.30" y2="597.20" stroke="#000" stroke-width="2.4" />
<line x1="300.10" y1="596.00" x2="448.50" y2="596.00" stroke="#000" stroke-width="2.6" />
<line x1="297.80" y1="596.00" x2="301.30" y2="596.00" stroke="#000" stroke-width="1.3" />
<text x="297.70" y="600.30" font-size="12" text-anchor="end" fill="#000" >0</text>
<line x1="297.80" y1="561.80" x2="301.30" y2="561.80" stroke="#000" stroke-width="1.3" />
<text x="297.70" y="566.10" font-size="12" text-anchor="end" fill="#000" >0.2</text>
<line x1="297.80" y1="527.60" x2="301.30" y2="527.60" stroke="#000" stroke-width="1.3" />
<text x="297.70" y="531.90" font-size="12" text-anchor="end" fill="#000" >0.4</text>
<line x1="297.80" y1="493.40" x2="301.30" y2="493.40" stroke="#000" stroke-width="1.3" />
<text x="297.70" y="497.70" font-size="12" text-anchor="end" fill="#000" >0.6</text>
<line x1="297.80" y1="459.20" x2="301.30" y2="459.20" stroke="#000" stroke-width="1.3" />
<text x="297.70" y="463.50" font-size="12" text-anchor="end" fill="#000" >0.8</text>
<polygon points="367.70,493.60 368.60,495.76 370.93,495.95 369.16,497.47 369.70,499.75 367.70,498.53 365.70,499.75 366.24,497.47 364.47,495.95 366.80,495.76" fill="#000"/>
<polygon points="393.10,545.10 394.00,547.26 396.33,547.45 394.56,548.97 395.10,551.25 393.10,550.03 391.10,551.25 391.64,548.97 389.87,547.45 392.20,547.26" fill="#000"/>
<polygon points="418.30,569.60 419.20,571.76 421.53,571.95 419.76,573.47 420.30,575.75 418.30,574.53 416.30,575.75 416.84,573.47 415.07,571.95 417.40,571.76" fill="#000"/>
<text x="270.80" y="522.70" font-size="14.0" text-anchor="middle" fill="#000" class="b" textLength="118.6" lengthAdjust="spacingAndGlyphs" transform="rotate(-90 270.80 522.70)" >Spleen Weight (g)</text>
<rect x="386.00" y="445.80" width="8.80" height="7.40" fill="#dd2591"/>
<text x="396.80" y="452.60" font-size="13.8" text-anchor="start" fill="#000" class="b" textLength="122" lengthAdjust="spacingAndGlyphs" >Start of Treatment</text>
<rect x="386.00" y="458.10" width="8.80" height="7.40" fill="#1c9ee0"/>
<text x="403.80" y="465.10" font-size="13.8" text-anchor="start" fill="#000" class="b" textLength="54.3" lengthAdjust="spacingAndGlyphs" >0 mg/kg</text>
<rect x="386.00" y="471.30" width="8.80" height="7.40" fill="#1caa55"/>
<text x="397.20" y="479.70" font-size="13.8" text-anchor="start" fill="#000" class="b" textLength="64.5" lengthAdjust="spacingAndGlyphs" >25 mg/kg</text>
<rect x="386.00" y="484.10" width="8.80" height="7.40" fill="#ee2a30"/>
<text x="397.20" y="492.60" font-size="13.8" text-anchor="start" fill="#000" class="b" textLength="64.5" lengthAdjust="spacingAndGlyphs" >50 mg/kg</text>
<rect x="386.00" y="496.20" width="8.80" height="7.40" fill="#fbbf2e"/>
<text x="397.20" y="507.00" font-size="13.8" text-anchor="start" fill="#000" class="b" textLength="101.5" lengthAdjust="spacingAndGlyphs" >Normal Mouse</text>
<text x="263.50" y="441.30" font-size="24.5" text-anchor="start" fill="#000" font-weight="bold" >F</text>
</svg>
</body></html>
